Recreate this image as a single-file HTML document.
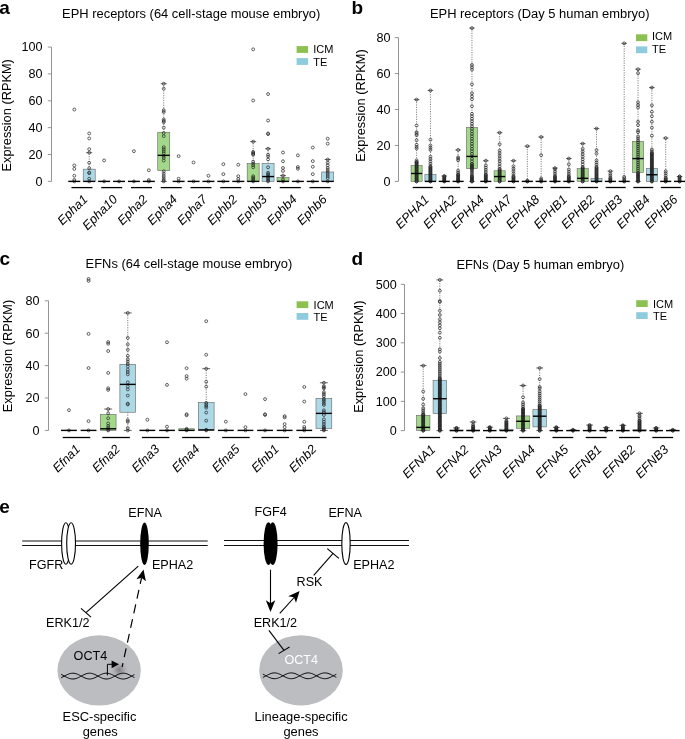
<!DOCTYPE html><html><head><meta charset="utf-8"><style>circle{fill:none;stroke:#222;stroke-width:0.7}html,body{margin:0;padding:0;background:#fff;overflow:hidden}svg{display:block;font-family:"Liberation Sans", sans-serif;will-change:transform}</style></head><body>
<svg width="685" height="739" viewBox="0 0 685 739">
<rect width="685" height="739" fill="#fff"/>
<g>
<g fill="none" stroke="#222" stroke-width="0.7">
</g>
<line x1="51.5" y1="47.05" x2="51.5" y2="181.4" stroke="#888" stroke-width="0.9"/>
<line x1="47.8" y1="181.4" x2="51.5" y2="181.4" stroke="#888" stroke-width="0.9"/>
<text x="42.6" y="185.8" text-anchor="end" font-size="12.6">0</text>
<line x1="47.8" y1="154.53" x2="51.5" y2="154.53" stroke="#888" stroke-width="0.9"/>
<text x="42.6" y="158.93" text-anchor="end" font-size="12.6">20</text>
<line x1="47.8" y1="127.66" x2="51.5" y2="127.66" stroke="#888" stroke-width="0.9"/>
<text x="42.6" y="132.06" text-anchor="end" font-size="12.6">40</text>
<line x1="47.8" y1="100.79" x2="51.5" y2="100.79" stroke="#888" stroke-width="0.9"/>
<text x="42.6" y="105.19" text-anchor="end" font-size="12.6">60</text>
<line x1="47.8" y1="73.92" x2="51.5" y2="73.92" stroke="#888" stroke-width="0.9"/>
<text x="42.6" y="78.32" text-anchor="end" font-size="12.6">80</text>
<line x1="47.8" y1="47.05" x2="51.5" y2="47.05" stroke="#888" stroke-width="0.9"/>
<text x="42.6" y="51.45" text-anchor="end" font-size="12.6">100</text>
<text transform="translate(10.8,115.3) rotate(-90)" text-anchor="middle" font-size="12.8">Expression (RPKM)</text>
<text x="191.2" y="18.3" text-anchor="middle" font-size="12.92">EPH receptors (64 cell-stage mouse embryo)</text>
<text x="-0.8" y="13.6" font-size="19" font-weight="bold">a</text>
<rect x="296.6" y="46.1" width="11.5" height="6.8" fill="#8cc152"/>
<rect x="296.6" y="58.1" width="11.5" height="6.8" fill="#8ecbdc"/>
<text x="313.3" y="52.7" font-size="11">ICM</text>
<text x="313.3" y="66.4" font-size="11">TE</text>
<circle cx="74.3" cy="109.52" r="1.45"/>
<circle cx="74.3" cy="165.41" r="1.45"/>
<circle cx="74.3" cy="168.91" r="1.45"/>
<circle cx="74.3" cy="175.76" r="1.45"/>
<circle cx="74.3" cy="179.92" r="1.45"/>
<circle cx="74.3" cy="181.4" r="1.45"/>
<line x1="68.3" y1="181.4" x2="80.3" y2="181.4" stroke="#000" stroke-width="1.4"/>
<line x1="89.21" y1="169.17" x2="89.21" y2="152.65" stroke="#555" stroke-width="0.8" stroke-dasharray="1.1 1.3"/>
<line x1="86.21" y1="152.65" x2="92.21" y2="152.65" stroke="#555" stroke-width="0.9"/>
<rect x="83.21" y="169.17" width="12" height="12.23" fill="#add8e6" stroke="#666" stroke-width="0.6"/>
<circle cx="89.21" cy="133.44" r="1.45"/>
<circle cx="89.21" cy="138.41" r="1.45"/>
<circle cx="89.21" cy="149.16" r="1.45"/>
<circle cx="89.21" cy="162.86" r="1.45"/>
<circle cx="89.21" cy="168.23" r="1.45"/>
<circle cx="89.21" cy="172.53" r="1.45"/>
<circle cx="89.21" cy="173.2" r="1.45"/>
<circle cx="89.21" cy="178.71" r="1.45"/>
<circle cx="89.21" cy="152.65" r="1.45"/>
<circle cx="89.21" cy="181.4" r="1.45"/>
<line x1="83.21" y1="181.4" x2="95.21" y2="181.4" stroke="#000" stroke-width="1.4"/>
<circle cx="104.11" cy="160.44" r="1.45"/>
<circle cx="104.11" cy="181.4" r="1.45"/>
<line x1="98.11" y1="181.4" x2="110.11" y2="181.4" stroke="#000" stroke-width="1.4"/>
<circle cx="119.02" cy="181.4" r="1.45"/>
<line x1="113.02" y1="181.4" x2="125.02" y2="181.4" stroke="#000" stroke-width="1.4"/>
<circle cx="133.92" cy="151.17" r="1.45"/>
<circle cx="133.92" cy="181.4" r="1.45"/>
<line x1="127.92" y1="181.4" x2="139.92" y2="181.4" stroke="#000" stroke-width="1.4"/>
<circle cx="148.83" cy="170.25" r="1.45"/>
<circle cx="148.83" cy="180.06" r="1.45"/>
<circle cx="148.83" cy="181.4" r="1.45"/>
<line x1="142.83" y1="181.4" x2="154.83" y2="181.4" stroke="#000" stroke-width="1.4"/>
<line x1="163.74" y1="132.23" x2="163.74" y2="83.73" stroke="#555" stroke-width="0.8" stroke-dasharray="1.1 1.3"/>
<line x1="160.74" y1="83.73" x2="166.74" y2="83.73" stroke="#555" stroke-width="0.9"/>
<line x1="163.74" y1="170.65" x2="163.74" y2="181.4" stroke="#555" stroke-width="0.8" stroke-dasharray="1.1 1.3"/>
<line x1="160.74" y1="181.4" x2="166.74" y2="181.4" stroke="#555" stroke-width="0.9"/>
<rect x="157.74" y="132.23" width="12" height="38.42" fill="#a3d88a" stroke="#666" stroke-width="0.6"/>
<circle cx="163.74" cy="88.7" r="1.45"/>
<circle cx="163.74" cy="110.19" r="1.45"/>
<circle cx="163.74" cy="112.08" r="1.45"/>
<circle cx="163.74" cy="119.6" r="1.45"/>
<circle cx="163.74" cy="120.94" r="1.45"/>
<circle cx="163.74" cy="122.29" r="1.45"/>
<circle cx="163.74" cy="127.66" r="1.45"/>
<circle cx="163.74" cy="133.03" r="1.45"/>
<circle cx="163.74" cy="136.12" r="1.45"/>
<circle cx="163.74" cy="147.14" r="1.45"/>
<circle cx="163.74" cy="149.16" r="1.45"/>
<circle cx="163.74" cy="151.17" r="1.45"/>
<circle cx="163.74" cy="153.19" r="1.45"/>
<circle cx="163.74" cy="155.87" r="1.45"/>
<circle cx="163.74" cy="157.89" r="1.45"/>
<circle cx="163.74" cy="160.58" r="1.45"/>
<circle cx="163.74" cy="171.32" r="1.45"/>
<circle cx="163.74" cy="173.74" r="1.45"/>
<circle cx="163.74" cy="176.03" r="1.45"/>
<circle cx="163.74" cy="178.18" r="1.45"/>
<circle cx="163.74" cy="180.06" r="1.45"/>
<circle cx="163.74" cy="83.73" r="1.45"/>
<circle cx="163.74" cy="181.4" r="1.45"/>
<line x1="157.74" y1="155.34" x2="169.74" y2="155.34" stroke="#000" stroke-width="1.4"/>
<circle cx="178.64" cy="156.14" r="1.45"/>
<circle cx="178.64" cy="178.71" r="1.45"/>
<circle cx="178.64" cy="181.4" r="1.45"/>
<line x1="172.64" y1="181.4" x2="184.64" y2="181.4" stroke="#000" stroke-width="1.4"/>
<circle cx="193.55" cy="162.46" r="1.45"/>
<circle cx="193.55" cy="181.4" r="1.45"/>
<line x1="187.55" y1="181.4" x2="199.55" y2="181.4" stroke="#000" stroke-width="1.4"/>
<circle cx="208.45" cy="175.76" r="1.45"/>
<circle cx="208.45" cy="181.4" r="1.45"/>
<line x1="202.45" y1="181.4" x2="214.45" y2="181.4" stroke="#000" stroke-width="1.4"/>
<circle cx="223.36" cy="164.2" r="1.45"/>
<circle cx="223.36" cy="174.15" r="1.45"/>
<circle cx="223.36" cy="181.4" r="1.45"/>
<line x1="217.36" y1="181.4" x2="229.36" y2="181.4" stroke="#000" stroke-width="1.4"/>
<circle cx="238.27" cy="164.74" r="1.45"/>
<circle cx="238.27" cy="176.16" r="1.45"/>
<circle cx="238.27" cy="178.98" r="1.45"/>
<circle cx="238.27" cy="181.4" r="1.45"/>
<line x1="232.27" y1="181.4" x2="244.27" y2="181.4" stroke="#000" stroke-width="1.4"/>
<line x1="253.17" y1="163.53" x2="253.17" y2="141.63" stroke="#555" stroke-width="0.8" stroke-dasharray="1.1 1.3"/>
<line x1="250.17" y1="141.63" x2="256.17" y2="141.63" stroke="#555" stroke-width="0.9"/>
<rect x="247.17" y="163.53" width="12" height="17.87" fill="#a3d88a" stroke="#666" stroke-width="0.6"/>
<circle cx="253.17" cy="49.33" r="1.45"/>
<circle cx="253.17" cy="100.52" r="1.45"/>
<circle cx="253.17" cy="151.84" r="1.45"/>
<circle cx="253.17" cy="152.92" r="1.45"/>
<circle cx="253.17" cy="153.86" r="1.45"/>
<circle cx="253.17" cy="154.8" r="1.45"/>
<circle cx="253.17" cy="161.65" r="1.45"/>
<circle cx="253.17" cy="163.53" r="1.45"/>
<circle cx="253.17" cy="165.28" r="1.45"/>
<circle cx="253.17" cy="167.29" r="1.45"/>
<circle cx="253.17" cy="176.29" r="1.45"/>
<circle cx="253.17" cy="177.64" r="1.45"/>
<circle cx="253.17" cy="178.98" r="1.45"/>
<circle cx="253.17" cy="180.33" r="1.45"/>
<circle cx="253.17" cy="141.63" r="1.45"/>
<circle cx="253.17" cy="181.4" r="1.45"/>
<line x1="247.17" y1="181.4" x2="259.17" y2="181.4" stroke="#000" stroke-width="1.4"/>
<line x1="268.08" y1="163.53" x2="268.08" y2="148.75" stroke="#555" stroke-width="0.8" stroke-dasharray="1.1 1.3"/>
<line x1="265.08" y1="148.75" x2="271.08" y2="148.75" stroke="#555" stroke-width="0.9"/>
<rect x="262.08" y="163.53" width="12" height="17.87" fill="#add8e6" stroke="#666" stroke-width="0.6"/>
<circle cx="268.08" cy="94.07" r="1.45"/>
<circle cx="268.08" cy="120.54" r="1.45"/>
<circle cx="268.08" cy="133.44" r="1.45"/>
<circle cx="268.08" cy="134.11" r="1.45"/>
<circle cx="268.08" cy="154.66" r="1.45"/>
<circle cx="268.08" cy="156.41" r="1.45"/>
<circle cx="268.08" cy="159.37" r="1.45"/>
<circle cx="268.08" cy="167.29" r="1.45"/>
<circle cx="268.08" cy="172.67" r="1.45"/>
<circle cx="268.08" cy="174.01" r="1.45"/>
<circle cx="268.08" cy="175.35" r="1.45"/>
<circle cx="268.08" cy="176.7" r="1.45"/>
<circle cx="268.08" cy="178.04" r="1.45"/>
<circle cx="268.08" cy="179.38" r="1.45"/>
<circle cx="268.08" cy="180.59" r="1.45"/>
<circle cx="268.08" cy="148.75" r="1.45"/>
<circle cx="268.08" cy="181.4" r="1.45"/>
<line x1="262.08" y1="176.56" x2="274.08" y2="176.56" stroke="#000" stroke-width="1.4"/>
<line x1="282.98" y1="177.5" x2="282.98" y2="175.62" stroke="#555" stroke-width="0.8" stroke-dasharray="1.1 1.3"/>
<line x1="279.98" y1="175.62" x2="285.98" y2="175.62" stroke="#555" stroke-width="0.9"/>
<rect x="276.98" y="177.5" width="12" height="3.9" fill="#a3d88a" stroke="#666" stroke-width="0.6"/>
<circle cx="282.98" cy="152.51" r="1.45"/>
<circle cx="282.98" cy="161.25" r="1.45"/>
<circle cx="282.98" cy="167.97" r="1.45"/>
<circle cx="282.98" cy="170.92" r="1.45"/>
<circle cx="282.98" cy="179.38" r="1.45"/>
<circle cx="282.98" cy="175.62" r="1.45"/>
<circle cx="282.98" cy="181.4" r="1.45"/>
<line x1="276.98" y1="181.4" x2="288.98" y2="181.4" stroke="#000" stroke-width="1.4"/>
<circle cx="297.89" cy="155.34" r="1.45"/>
<circle cx="297.89" cy="167.02" r="1.45"/>
<circle cx="297.89" cy="168.77" r="1.45"/>
<circle cx="297.89" cy="181.4" r="1.45"/>
<line x1="291.89" y1="181.4" x2="303.89" y2="181.4" stroke="#000" stroke-width="1.4"/>
<circle cx="312.8" cy="147.54" r="1.45"/>
<circle cx="312.8" cy="161.11" r="1.45"/>
<circle cx="312.8" cy="166.76" r="1.45"/>
<circle cx="312.8" cy="174.15" r="1.45"/>
<circle cx="312.8" cy="181.4" r="1.45"/>
<line x1="306.8" y1="181.4" x2="318.8" y2="181.4" stroke="#000" stroke-width="1.4"/>
<line x1="327.7" y1="172" x2="327.7" y2="159.5" stroke="#555" stroke-width="0.8" stroke-dasharray="1.1 1.3"/>
<line x1="324.7" y1="159.5" x2="330.7" y2="159.5" stroke="#555" stroke-width="0.9"/>
<rect x="321.7" y="172" width="12" height="9.4" fill="#add8e6" stroke="#666" stroke-width="0.6"/>
<circle cx="327.7" cy="138.68" r="1.45"/>
<circle cx="327.7" cy="143.65" r="1.45"/>
<circle cx="327.7" cy="162.59" r="1.45"/>
<circle cx="327.7" cy="165.28" r="1.45"/>
<circle cx="327.7" cy="167.97" r="1.45"/>
<circle cx="327.7" cy="169.98" r="1.45"/>
<circle cx="327.7" cy="172" r="1.45"/>
<circle cx="327.7" cy="174.01" r="1.45"/>
<circle cx="327.7" cy="176.03" r="1.45"/>
<circle cx="327.7" cy="178.04" r="1.45"/>
<circle cx="327.7" cy="159.5" r="1.45"/>
<circle cx="327.7" cy="181.4" r="1.45"/>
<line x1="321.7" y1="181.4" x2="333.7" y2="181.4" stroke="#000" stroke-width="1.4"/>
<line x1="71.45" y1="187.6" x2="92.45" y2="187.6" stroke="#000" stroke-width="1.3"/>
<text transform="translate(88.35,200) rotate(-45)" text-anchor="end" font-size="12.6" font-style="italic">Epha1</text>
<line x1="101.21" y1="187.6" x2="122.21" y2="187.6" stroke="#000" stroke-width="1.3"/>
<text transform="translate(118.26,200) rotate(-45)" text-anchor="end" font-size="12.6" font-style="italic">Epha10</text>
<line x1="130.97" y1="187.6" x2="151.97" y2="187.6" stroke="#000" stroke-width="1.3"/>
<text transform="translate(148.17,200) rotate(-45)" text-anchor="end" font-size="12.6" font-style="italic">Epha2</text>
<line x1="160.73" y1="187.6" x2="181.73" y2="187.6" stroke="#000" stroke-width="1.3"/>
<text transform="translate(178.08,200) rotate(-45)" text-anchor="end" font-size="12.6" font-style="italic">Epha4</text>
<line x1="190.49" y1="187.6" x2="211.49" y2="187.6" stroke="#000" stroke-width="1.3"/>
<text transform="translate(207.99,200) rotate(-45)" text-anchor="end" font-size="12.6" font-style="italic">Epha7</text>
<line x1="220.25" y1="187.6" x2="241.25" y2="187.6" stroke="#000" stroke-width="1.3"/>
<text transform="translate(237.9,200) rotate(-45)" text-anchor="end" font-size="12.6" font-style="italic">Ephb2</text>
<line x1="250.01" y1="187.6" x2="271.01" y2="187.6" stroke="#000" stroke-width="1.3"/>
<text transform="translate(267.81,200) rotate(-45)" text-anchor="end" font-size="12.6" font-style="italic">Ephb3</text>
<line x1="279.77" y1="187.6" x2="300.77" y2="187.6" stroke="#000" stroke-width="1.3"/>
<text transform="translate(297.72,200) rotate(-45)" text-anchor="end" font-size="12.6" font-style="italic">Ephb4</text>
<line x1="309.53" y1="187.6" x2="330.53" y2="187.6" stroke="#000" stroke-width="1.3"/>
<text transform="translate(327.63,200) rotate(-45)" text-anchor="end" font-size="12.6" font-style="italic">Ephb6</text>
</g>
<g>
<g fill="none" stroke="#222" stroke-width="0.7">
</g>
<line x1="398.5" y1="37.6" x2="398.5" y2="181.4" stroke="#888" stroke-width="0.9"/>
<line x1="394.8" y1="181.4" x2="398.5" y2="181.4" stroke="#888" stroke-width="0.9"/>
<text x="390.6" y="185.8" text-anchor="end" font-size="12.6">0</text>
<line x1="394.8" y1="145.45" x2="398.5" y2="145.45" stroke="#888" stroke-width="0.9"/>
<text x="390.6" y="149.85" text-anchor="end" font-size="12.6">20</text>
<line x1="394.8" y1="109.5" x2="398.5" y2="109.5" stroke="#888" stroke-width="0.9"/>
<text x="390.6" y="113.9" text-anchor="end" font-size="12.6">40</text>
<line x1="394.8" y1="73.55" x2="398.5" y2="73.55" stroke="#888" stroke-width="0.9"/>
<text x="390.6" y="77.95" text-anchor="end" font-size="12.6">60</text>
<line x1="394.8" y1="37.6" x2="398.5" y2="37.6" stroke="#888" stroke-width="0.9"/>
<text x="390.6" y="42" text-anchor="end" font-size="12.6">80</text>
<text transform="translate(364.5,105.5) rotate(-90)" text-anchor="middle" font-size="12.8">Expression (RPKM)</text>
<text x="539.7" y="18.2" text-anchor="middle" font-size="12.92">EPH receptors (Day 5 human embryo)</text>
<text x="351.6" y="13.5" font-size="19" font-weight="bold">b</text>
<rect x="636" y="34.3" width="11.3" height="6.8" fill="#8cc152"/>
<rect x="636" y="46.4" width="11.3" height="6.8" fill="#8ecbdc"/>
<text x="652" y="40.4" font-size="11">ICM</text>
<text x="652" y="53.2" font-size="11">TE</text>
<line x1="416.6" y1="165.58" x2="416.6" y2="99.61" stroke="#555" stroke-width="0.8" stroke-dasharray="1.1 1.3"/>
<line x1="413.83" y1="99.61" x2="419.38" y2="99.61" stroke="#555" stroke-width="0.9"/>
<rect x="411.05" y="165.58" width="11.1" height="15.82" fill="#a3d88a" stroke="#666" stroke-width="0.6"/>
<circle cx="416.6" cy="148.51" r="1.45"/>
<circle cx="416.6" cy="146.89" r="1.45"/>
<circle cx="416.6" cy="144.73" r="1.45"/>
<circle cx="416.6" cy="140.24" r="1.45"/>
<circle cx="416.6" cy="135.2" r="1.45"/>
<circle cx="416.6" cy="133.77" r="1.45"/>
<circle cx="416.6" cy="132.15" r="1.45"/>
<circle cx="416.6" cy="125.5" r="1.45"/>
<circle cx="416.6" cy="181.4" r="1.45"/>
<circle cx="416.6" cy="180.6" r="1.45"/>
<circle cx="416.6" cy="179.8" r="1.45"/>
<circle cx="416.6" cy="179" r="1.45"/>
<circle cx="416.6" cy="178.2" r="1.45"/>
<circle cx="416.6" cy="177.4" r="1.45"/>
<circle cx="416.6" cy="176.6" r="1.45"/>
<circle cx="416.6" cy="175.8" r="1.45"/>
<circle cx="416.6" cy="175" r="1.45"/>
<circle cx="416.6" cy="174.2" r="1.45"/>
<circle cx="416.6" cy="173.4" r="1.45"/>
<circle cx="416.6" cy="172.6" r="1.45"/>
<circle cx="416.6" cy="171.8" r="1.45"/>
<circle cx="416.6" cy="171" r="1.45"/>
<circle cx="416.6" cy="170.2" r="1.45"/>
<circle cx="416.6" cy="169.4" r="1.45"/>
<circle cx="416.6" cy="168.6" r="1.45"/>
<circle cx="416.6" cy="167.8" r="1.45"/>
<circle cx="416.6" cy="167" r="1.45"/>
<circle cx="416.6" cy="166.2" r="1.45"/>
<circle cx="416.6" cy="165.4" r="1.45"/>
<circle cx="416.6" cy="164.6" r="1.45"/>
<circle cx="416.6" cy="163.8" r="1.45"/>
<circle cx="416.6" cy="163" r="1.45"/>
<circle cx="416.6" cy="162.2" r="1.45"/>
<circle cx="416.6" cy="161.99" r="1.45"/>
<circle cx="416.6" cy="160.39" r="1.45"/>
<circle cx="416.6" cy="99.61" r="1.45"/>
<circle cx="416.6" cy="181.4" r="1.45"/>
<line x1="411.05" y1="173.49" x2="422.15" y2="173.49" stroke="#000" stroke-width="1.4"/>
<line x1="430.44" y1="174.57" x2="430.44" y2="90.45" stroke="#555" stroke-width="0.8" stroke-dasharray="1.1 1.3"/>
<line x1="427.67" y1="90.45" x2="433.21" y2="90.45" stroke="#555" stroke-width="0.9"/>
<rect x="424.89" y="174.57" width="11.1" height="6.83" fill="#add8e6" stroke="#666" stroke-width="0.6"/>
<circle cx="430.44" cy="149.94" r="1.45"/>
<circle cx="430.44" cy="147.79" r="1.45"/>
<circle cx="430.44" cy="145.45" r="1.45"/>
<circle cx="430.44" cy="139.7" r="1.45"/>
<circle cx="430.44" cy="181.4" r="1.45"/>
<circle cx="430.44" cy="180.6" r="1.45"/>
<circle cx="430.44" cy="179.8" r="1.45"/>
<circle cx="430.44" cy="179" r="1.45"/>
<circle cx="430.44" cy="178.2" r="1.45"/>
<circle cx="430.44" cy="177.4" r="1.45"/>
<circle cx="430.44" cy="176.6" r="1.45"/>
<circle cx="430.44" cy="175.8" r="1.45"/>
<circle cx="430.44" cy="175" r="1.45"/>
<circle cx="430.44" cy="174.2" r="1.45"/>
<circle cx="430.44" cy="173.4" r="1.45"/>
<circle cx="430.44" cy="172.6" r="1.45"/>
<circle cx="430.44" cy="171.8" r="1.45"/>
<circle cx="430.44" cy="171" r="1.45"/>
<circle cx="430.44" cy="170.2" r="1.45"/>
<circle cx="430.44" cy="169.4" r="1.45"/>
<circle cx="430.44" cy="168.6" r="1.45"/>
<circle cx="430.44" cy="167.8" r="1.45"/>
<circle cx="430.44" cy="167" r="1.45"/>
<circle cx="430.44" cy="166.3" r="1.45"/>
<circle cx="430.44" cy="163.9" r="1.45"/>
<circle cx="430.44" cy="161.5" r="1.45"/>
<circle cx="430.44" cy="159.1" r="1.45"/>
<circle cx="430.44" cy="156.7" r="1.45"/>
<circle cx="430.44" cy="90.45" r="1.45"/>
<circle cx="430.44" cy="181.4" r="1.45"/>
<line x1="424.89" y1="181.4" x2="435.99" y2="181.4" stroke="#000" stroke-width="1.4"/>
<line x1="444.28" y1="181.4" x2="444.28" y2="176.01" stroke="#555" stroke-width="0.8" stroke-dasharray="1.1 1.3"/>
<line x1="441.51" y1="176.01" x2="447.06" y2="176.01" stroke="#555" stroke-width="0.9"/>
<circle cx="444.28" cy="181.4" r="1.45"/>
<circle cx="444.28" cy="180.6" r="1.45"/>
<circle cx="444.28" cy="179.8" r="1.45"/>
<circle cx="444.28" cy="179" r="1.45"/>
<circle cx="444.28" cy="178.2" r="1.45"/>
<circle cx="444.28" cy="177.4" r="1.45"/>
<circle cx="444.28" cy="176.6" r="1.45"/>
<circle cx="444.28" cy="176.01" r="1.45"/>
<circle cx="444.28" cy="181.4" r="1.45"/>
<line x1="438.73" y1="181.4" x2="449.83" y2="181.4" stroke="#000" stroke-width="1.4"/>
<line x1="458.12" y1="181.4" x2="458.12" y2="149.94" stroke="#555" stroke-width="0.8" stroke-dasharray="1.1 1.3"/>
<line x1="455.35" y1="149.94" x2="460.89" y2="149.94" stroke="#555" stroke-width="0.9"/>
<circle cx="458.12" cy="160.37" r="1.45"/>
<circle cx="458.12" cy="158.75" r="1.45"/>
<circle cx="458.12" cy="157.31" r="1.45"/>
<circle cx="458.12" cy="181.4" r="1.45"/>
<circle cx="458.12" cy="180.6" r="1.45"/>
<circle cx="458.12" cy="179.8" r="1.45"/>
<circle cx="458.12" cy="179" r="1.45"/>
<circle cx="458.12" cy="178.2" r="1.45"/>
<circle cx="458.12" cy="177.4" r="1.45"/>
<circle cx="458.12" cy="176.6" r="1.45"/>
<circle cx="458.12" cy="175.8" r="1.45"/>
<circle cx="458.12" cy="175" r="1.45"/>
<circle cx="458.12" cy="174.21" r="1.45"/>
<circle cx="458.12" cy="172.41" r="1.45"/>
<circle cx="458.12" cy="170.61" r="1.45"/>
<circle cx="458.12" cy="149.94" r="1.45"/>
<circle cx="458.12" cy="181.4" r="1.45"/>
<line x1="452.57" y1="181.4" x2="463.67" y2="181.4" stroke="#000" stroke-width="1.4"/>
<line x1="471.96" y1="127.47" x2="471.96" y2="28.07" stroke="#555" stroke-width="0.8" stroke-dasharray="1.1 1.3"/>
<line x1="469.19" y1="28.07" x2="474.74" y2="28.07" stroke="#555" stroke-width="0.9"/>
<line x1="471.96" y1="168.64" x2="471.96" y2="181.4" stroke="#555" stroke-width="0.8" stroke-dasharray="1.1 1.3"/>
<line x1="469.19" y1="181.4" x2="474.74" y2="181.4" stroke="#555" stroke-width="0.9"/>
<rect x="466.41" y="127.47" width="11.1" height="41.16" fill="#a3d88a" stroke="#666" stroke-width="0.6"/>
<circle cx="471.96" cy="167.92" r="1.45"/>
<circle cx="471.96" cy="166.66" r="1.45"/>
<circle cx="471.96" cy="165.58" r="1.45"/>
<circle cx="471.96" cy="164.32" r="1.45"/>
<circle cx="471.96" cy="106.26" r="1.45"/>
<circle cx="471.96" cy="99.25" r="1.45"/>
<circle cx="471.96" cy="96.38" r="1.45"/>
<circle cx="471.96" cy="93.32" r="1.45"/>
<circle cx="471.96" cy="84.33" r="1.45"/>
<circle cx="471.96" cy="69.6" r="1.45"/>
<circle cx="471.96" cy="67.26" r="1.45"/>
<circle cx="471.96" cy="64.92" r="1.45"/>
<circle cx="471.96" cy="181.4" r="1.45"/>
<circle cx="471.96" cy="180.6" r="1.45"/>
<circle cx="471.96" cy="179.8" r="1.45"/>
<circle cx="471.96" cy="179" r="1.45"/>
<circle cx="471.96" cy="178.2" r="1.45"/>
<circle cx="471.96" cy="177.4" r="1.45"/>
<circle cx="471.96" cy="176.6" r="1.45"/>
<circle cx="471.96" cy="176.01" r="1.45"/>
<circle cx="471.96" cy="174.41" r="1.45"/>
<circle cx="471.96" cy="172.81" r="1.45"/>
<circle cx="471.96" cy="171.21" r="1.45"/>
<circle cx="471.96" cy="169.61" r="1.45"/>
<circle cx="471.96" cy="168.82" r="1.45"/>
<circle cx="471.96" cy="166.32" r="1.45"/>
<circle cx="471.96" cy="163.82" r="1.45"/>
<circle cx="471.96" cy="161.32" r="1.45"/>
<circle cx="471.96" cy="158.82" r="1.45"/>
<circle cx="471.96" cy="156.32" r="1.45"/>
<circle cx="471.96" cy="153.82" r="1.45"/>
<circle cx="471.96" cy="151.32" r="1.45"/>
<circle cx="471.96" cy="148.82" r="1.45"/>
<circle cx="471.96" cy="146.32" r="1.45"/>
<circle cx="471.96" cy="143.82" r="1.45"/>
<circle cx="471.96" cy="141.32" r="1.45"/>
<circle cx="471.96" cy="138.82" r="1.45"/>
<circle cx="471.96" cy="136.32" r="1.45"/>
<circle cx="471.96" cy="133.82" r="1.45"/>
<circle cx="471.96" cy="131.32" r="1.45"/>
<circle cx="471.96" cy="128.82" r="1.45"/>
<circle cx="471.96" cy="126.32" r="1.45"/>
<circle cx="471.96" cy="123.82" r="1.45"/>
<circle cx="471.96" cy="121.32" r="1.45"/>
<circle cx="471.96" cy="118.82" r="1.45"/>
<circle cx="471.96" cy="116.32" r="1.45"/>
<circle cx="471.96" cy="113.82" r="1.45"/>
<circle cx="471.96" cy="28.07" r="1.45"/>
<circle cx="471.96" cy="181.4" r="1.45"/>
<line x1="466.41" y1="156.41" x2="477.51" y2="156.41" stroke="#000" stroke-width="1.4"/>
<line x1="485.8" y1="181.4" x2="485.8" y2="160.73" stroke="#555" stroke-width="0.8" stroke-dasharray="1.1 1.3"/>
<line x1="483.03" y1="160.73" x2="488.57" y2="160.73" stroke="#555" stroke-width="0.9"/>
<circle cx="485.8" cy="181.4" r="1.45"/>
<circle cx="485.8" cy="180.6" r="1.45"/>
<circle cx="485.8" cy="179.8" r="1.45"/>
<circle cx="485.8" cy="179" r="1.45"/>
<circle cx="485.8" cy="178.2" r="1.45"/>
<circle cx="485.8" cy="177.4" r="1.45"/>
<circle cx="485.8" cy="176.6" r="1.45"/>
<circle cx="485.8" cy="175.8" r="1.45"/>
<circle cx="485.8" cy="175" r="1.45"/>
<circle cx="485.8" cy="174.21" r="1.45"/>
<circle cx="485.8" cy="172.01" r="1.45"/>
<circle cx="485.8" cy="169.81" r="1.45"/>
<circle cx="485.8" cy="167.61" r="1.45"/>
<circle cx="485.8" cy="165.41" r="1.45"/>
<circle cx="485.8" cy="160.73" r="1.45"/>
<circle cx="485.8" cy="181.4" r="1.45"/>
<line x1="480.25" y1="181.4" x2="491.35" y2="181.4" stroke="#000" stroke-width="1.4"/>
<line x1="499.64" y1="170.79" x2="499.64" y2="132.69" stroke="#555" stroke-width="0.8" stroke-dasharray="1.1 1.3"/>
<line x1="496.87" y1="132.69" x2="502.41" y2="132.69" stroke="#555" stroke-width="0.9"/>
<rect x="494.09" y="170.79" width="11.1" height="10.61" fill="#a3d88a" stroke="#666" stroke-width="0.6"/>
<circle cx="499.64" cy="144.19" r="1.45"/>
<circle cx="499.64" cy="181.4" r="1.45"/>
<circle cx="499.64" cy="180.5" r="1.45"/>
<circle cx="499.64" cy="179.6" r="1.45"/>
<circle cx="499.64" cy="178.7" r="1.45"/>
<circle cx="499.64" cy="177.8" r="1.45"/>
<circle cx="499.64" cy="176.9" r="1.45"/>
<circle cx="499.64" cy="176" r="1.45"/>
<circle cx="499.64" cy="175.1" r="1.45"/>
<circle cx="499.64" cy="174.2" r="1.45"/>
<circle cx="499.64" cy="173.3" r="1.45"/>
<circle cx="499.64" cy="172.4" r="1.45"/>
<circle cx="499.64" cy="171.5" r="1.45"/>
<circle cx="499.64" cy="170.6" r="1.45"/>
<circle cx="499.64" cy="169.7" r="1.45"/>
<circle cx="499.64" cy="168.82" r="1.45"/>
<circle cx="499.64" cy="166.22" r="1.45"/>
<circle cx="499.64" cy="163.62" r="1.45"/>
<circle cx="499.64" cy="161.02" r="1.45"/>
<circle cx="499.64" cy="158.42" r="1.45"/>
<circle cx="499.64" cy="155.82" r="1.45"/>
<circle cx="499.64" cy="153.22" r="1.45"/>
<circle cx="499.64" cy="150.62" r="1.45"/>
<circle cx="499.64" cy="132.69" r="1.45"/>
<circle cx="499.64" cy="181.4" r="1.45"/>
<line x1="494.09" y1="176.55" x2="505.19" y2="176.55" stroke="#000" stroke-width="1.4"/>
<line x1="513.48" y1="181.4" x2="513.48" y2="160.73" stroke="#555" stroke-width="0.8" stroke-dasharray="1.1 1.3"/>
<line x1="510.71" y1="160.73" x2="516.25" y2="160.73" stroke="#555" stroke-width="0.9"/>
<circle cx="513.48" cy="181.4" r="1.45"/>
<circle cx="513.48" cy="180.5" r="1.45"/>
<circle cx="513.48" cy="179.6" r="1.45"/>
<circle cx="513.48" cy="178.7" r="1.45"/>
<circle cx="513.48" cy="177.8" r="1.45"/>
<circle cx="513.48" cy="176.9" r="1.45"/>
<circle cx="513.48" cy="176.01" r="1.45"/>
<circle cx="513.48" cy="173.61" r="1.45"/>
<circle cx="513.48" cy="171.21" r="1.45"/>
<circle cx="513.48" cy="168.81" r="1.45"/>
<circle cx="513.48" cy="166.41" r="1.45"/>
<circle cx="513.48" cy="160.73" r="1.45"/>
<circle cx="513.48" cy="181.4" r="1.45"/>
<line x1="507.93" y1="181.4" x2="519.03" y2="181.4" stroke="#000" stroke-width="1.4"/>
<line x1="527.32" y1="181.4" x2="527.32" y2="146.17" stroke="#555" stroke-width="0.8" stroke-dasharray="1.1 1.3"/>
<line x1="524.55" y1="146.17" x2="530.1" y2="146.17" stroke="#555" stroke-width="0.9"/>
<circle cx="527.32" cy="181.4" r="1.45"/>
<circle cx="527.32" cy="180.6" r="1.45"/>
<circle cx="527.32" cy="146.17" r="1.45"/>
<circle cx="527.32" cy="181.4" r="1.45"/>
<line x1="521.77" y1="181.4" x2="532.87" y2="181.4" stroke="#000" stroke-width="1.4"/>
<line x1="541.16" y1="181.4" x2="541.16" y2="137" stroke="#555" stroke-width="0.8" stroke-dasharray="1.1 1.3"/>
<line x1="538.39" y1="137" x2="543.94" y2="137" stroke="#555" stroke-width="0.9"/>
<circle cx="541.16" cy="155.16" r="1.45"/>
<circle cx="541.16" cy="181.4" r="1.45"/>
<circle cx="541.16" cy="179.9" r="1.45"/>
<circle cx="541.16" cy="178.4" r="1.45"/>
<circle cx="541.16" cy="137" r="1.45"/>
<circle cx="541.16" cy="181.4" r="1.45"/>
<line x1="535.61" y1="181.4" x2="546.71" y2="181.4" stroke="#000" stroke-width="1.4"/>
<line x1="555" y1="181.4" x2="555" y2="168.1" stroke="#555" stroke-width="0.8" stroke-dasharray="1.1 1.3"/>
<line x1="552.23" y1="168.1" x2="557.77" y2="168.1" stroke="#555" stroke-width="0.9"/>
<circle cx="555" cy="181.4" r="1.45"/>
<circle cx="555" cy="180.5" r="1.45"/>
<circle cx="555" cy="179.6" r="1.45"/>
<circle cx="555" cy="178.7" r="1.45"/>
<circle cx="555" cy="177.8" r="1.45"/>
<circle cx="555" cy="176.9" r="1.45"/>
<circle cx="555" cy="176.01" r="1.45"/>
<circle cx="555" cy="173.81" r="1.45"/>
<circle cx="555" cy="171.61" r="1.45"/>
<circle cx="555" cy="169.41" r="1.45"/>
<circle cx="555" cy="168.1" r="1.45"/>
<circle cx="555" cy="181.4" r="1.45"/>
<line x1="549.45" y1="181.4" x2="560.55" y2="181.4" stroke="#000" stroke-width="1.4"/>
<line x1="568.84" y1="181.4" x2="568.84" y2="158.57" stroke="#555" stroke-width="0.8" stroke-dasharray="1.1 1.3"/>
<line x1="566.07" y1="158.57" x2="571.62" y2="158.57" stroke="#555" stroke-width="0.9"/>
<circle cx="568.84" cy="164.32" r="1.45"/>
<circle cx="568.84" cy="181.4" r="1.45"/>
<circle cx="568.84" cy="180.5" r="1.45"/>
<circle cx="568.84" cy="179.6" r="1.45"/>
<circle cx="568.84" cy="178.7" r="1.45"/>
<circle cx="568.84" cy="177.8" r="1.45"/>
<circle cx="568.84" cy="176.9" r="1.45"/>
<circle cx="568.84" cy="176.01" r="1.45"/>
<circle cx="568.84" cy="173.81" r="1.45"/>
<circle cx="568.84" cy="171.61" r="1.45"/>
<circle cx="568.84" cy="169.41" r="1.45"/>
<circle cx="568.84" cy="158.57" r="1.45"/>
<circle cx="568.84" cy="181.4" r="1.45"/>
<line x1="563.29" y1="181.4" x2="574.39" y2="181.4" stroke="#000" stroke-width="1.4"/>
<line x1="582.68" y1="168.64" x2="582.68" y2="143.65" stroke="#555" stroke-width="0.8" stroke-dasharray="1.1 1.3"/>
<line x1="579.91" y1="143.65" x2="585.46" y2="143.65" stroke="#555" stroke-width="0.9"/>
<rect x="577.13" y="168.64" width="11.1" height="12.76" fill="#a3d88a" stroke="#666" stroke-width="0.6"/>
<circle cx="582.68" cy="181.4" r="1.45"/>
<circle cx="582.68" cy="180.5" r="1.45"/>
<circle cx="582.68" cy="179.6" r="1.45"/>
<circle cx="582.68" cy="178.7" r="1.45"/>
<circle cx="582.68" cy="177.8" r="1.45"/>
<circle cx="582.68" cy="176.9" r="1.45"/>
<circle cx="582.68" cy="176" r="1.45"/>
<circle cx="582.68" cy="175.1" r="1.45"/>
<circle cx="582.68" cy="174.2" r="1.45"/>
<circle cx="582.68" cy="173.3" r="1.45"/>
<circle cx="582.68" cy="172.4" r="1.45"/>
<circle cx="582.68" cy="171.5" r="1.45"/>
<circle cx="582.68" cy="170.6" r="1.45"/>
<circle cx="582.68" cy="169.7" r="1.45"/>
<circle cx="582.68" cy="168.8" r="1.45"/>
<circle cx="582.68" cy="167.9" r="1.45"/>
<circle cx="582.68" cy="167.02" r="1.45"/>
<circle cx="582.68" cy="164.42" r="1.45"/>
<circle cx="582.68" cy="161.82" r="1.45"/>
<circle cx="582.68" cy="159.22" r="1.45"/>
<circle cx="582.68" cy="156.62" r="1.45"/>
<circle cx="582.68" cy="154.02" r="1.45"/>
<circle cx="582.68" cy="151.42" r="1.45"/>
<circle cx="582.68" cy="148.82" r="1.45"/>
<circle cx="582.68" cy="143.65" r="1.45"/>
<circle cx="582.68" cy="181.4" r="1.45"/>
<line x1="577.13" y1="178.34" x2="588.23" y2="178.34" stroke="#000" stroke-width="1.4"/>
<line x1="596.52" y1="178.34" x2="596.52" y2="128.55" stroke="#555" stroke-width="0.8" stroke-dasharray="1.1 1.3"/>
<line x1="593.75" y1="128.55" x2="599.29" y2="128.55" stroke="#555" stroke-width="0.9"/>
<rect x="590.97" y="178.34" width="11.1" height="3.06" fill="#add8e6" stroke="#666" stroke-width="0.6"/>
<circle cx="596.52" cy="153.54" r="1.45"/>
<circle cx="596.52" cy="150.12" r="1.45"/>
<circle cx="596.52" cy="181.4" r="1.45"/>
<circle cx="596.52" cy="180.5" r="1.45"/>
<circle cx="596.52" cy="179.6" r="1.45"/>
<circle cx="596.52" cy="178.7" r="1.45"/>
<circle cx="596.52" cy="177.8" r="1.45"/>
<circle cx="596.52" cy="176.9" r="1.45"/>
<circle cx="596.52" cy="176" r="1.45"/>
<circle cx="596.52" cy="175.1" r="1.45"/>
<circle cx="596.52" cy="174.2" r="1.45"/>
<circle cx="596.52" cy="173.3" r="1.45"/>
<circle cx="596.52" cy="172.4" r="1.45"/>
<circle cx="596.52" cy="171.5" r="1.45"/>
<circle cx="596.52" cy="170.6" r="1.45"/>
<circle cx="596.52" cy="169.7" r="1.45"/>
<circle cx="596.52" cy="168.8" r="1.45"/>
<circle cx="596.52" cy="167.9" r="1.45"/>
<circle cx="596.52" cy="167.02" r="1.45"/>
<circle cx="596.52" cy="164.82" r="1.45"/>
<circle cx="596.52" cy="162.62" r="1.45"/>
<circle cx="596.52" cy="160.42" r="1.45"/>
<circle cx="596.52" cy="128.55" r="1.45"/>
<circle cx="596.52" cy="181.4" r="1.45"/>
<line x1="590.97" y1="181.4" x2="602.07" y2="181.4" stroke="#000" stroke-width="1.4"/>
<line x1="610.36" y1="181.4" x2="610.36" y2="171.15" stroke="#555" stroke-width="0.8" stroke-dasharray="1.1 1.3"/>
<line x1="607.59" y1="171.15" x2="613.13" y2="171.15" stroke="#555" stroke-width="0.9"/>
<circle cx="610.36" cy="181.4" r="1.45"/>
<circle cx="610.36" cy="180.5" r="1.45"/>
<circle cx="610.36" cy="179.6" r="1.45"/>
<circle cx="610.36" cy="178.7" r="1.45"/>
<circle cx="610.36" cy="177.81" r="1.45"/>
<circle cx="610.36" cy="175.81" r="1.45"/>
<circle cx="610.36" cy="173.81" r="1.45"/>
<circle cx="610.36" cy="171.15" r="1.45"/>
<circle cx="610.36" cy="181.4" r="1.45"/>
<line x1="604.81" y1="181.4" x2="615.91" y2="181.4" stroke="#000" stroke-width="1.4"/>
<line x1="624.2" y1="181.4" x2="624.2" y2="43.35" stroke="#555" stroke-width="0.8" stroke-dasharray="1.1 1.3"/>
<line x1="621.43" y1="43.35" x2="626.98" y2="43.35" stroke="#555" stroke-width="0.9"/>
<circle cx="624.2" cy="181.4" r="1.45"/>
<circle cx="624.2" cy="179.9" r="1.45"/>
<circle cx="624.2" cy="178.4" r="1.45"/>
<circle cx="624.2" cy="176.9" r="1.45"/>
<circle cx="624.2" cy="43.35" r="1.45"/>
<circle cx="624.2" cy="181.4" r="1.45"/>
<line x1="618.65" y1="181.4" x2="629.75" y2="181.4" stroke="#000" stroke-width="1.4"/>
<line x1="638.04" y1="141.32" x2="638.04" y2="69.24" stroke="#555" stroke-width="0.8" stroke-dasharray="1.1 1.3"/>
<line x1="635.26" y1="69.24" x2="640.81" y2="69.24" stroke="#555" stroke-width="0.9"/>
<line x1="638.04" y1="172.41" x2="638.04" y2="181.4" stroke="#555" stroke-width="0.8" stroke-dasharray="1.1 1.3"/>
<line x1="635.26" y1="181.4" x2="640.81" y2="181.4" stroke="#555" stroke-width="0.9"/>
<rect x="632.49" y="141.32" width="11.1" height="31.1" fill="#a3d88a" stroke="#666" stroke-width="0.6"/>
<circle cx="638.04" cy="132.15" r="1.45"/>
<circle cx="638.04" cy="130.53" r="1.45"/>
<circle cx="638.04" cy="125.14" r="1.45"/>
<circle cx="638.04" cy="121.72" r="1.45"/>
<circle cx="638.04" cy="107.52" r="1.45"/>
<circle cx="638.04" cy="105.01" r="1.45"/>
<circle cx="638.04" cy="102.31" r="1.45"/>
<circle cx="638.04" cy="73.19" r="1.45"/>
<circle cx="638.04" cy="181.4" r="1.45"/>
<circle cx="638.04" cy="180.5" r="1.45"/>
<circle cx="638.04" cy="179.6" r="1.45"/>
<circle cx="638.04" cy="178.7" r="1.45"/>
<circle cx="638.04" cy="177.8" r="1.45"/>
<circle cx="638.04" cy="176.9" r="1.45"/>
<circle cx="638.04" cy="176" r="1.45"/>
<circle cx="638.04" cy="175.1" r="1.45"/>
<circle cx="638.04" cy="174.2" r="1.45"/>
<circle cx="638.04" cy="173.3" r="1.45"/>
<circle cx="638.04" cy="172.41" r="1.45"/>
<circle cx="638.04" cy="170.41" r="1.45"/>
<circle cx="638.04" cy="168.41" r="1.45"/>
<circle cx="638.04" cy="166.41" r="1.45"/>
<circle cx="638.04" cy="164.41" r="1.45"/>
<circle cx="638.04" cy="162.41" r="1.45"/>
<circle cx="638.04" cy="160.41" r="1.45"/>
<circle cx="638.04" cy="158.41" r="1.45"/>
<circle cx="638.04" cy="156.41" r="1.45"/>
<circle cx="638.04" cy="154.41" r="1.45"/>
<circle cx="638.04" cy="152.41" r="1.45"/>
<circle cx="638.04" cy="150.41" r="1.45"/>
<circle cx="638.04" cy="148.41" r="1.45"/>
<circle cx="638.04" cy="146.41" r="1.45"/>
<circle cx="638.04" cy="144.41" r="1.45"/>
<circle cx="638.04" cy="142.41" r="1.45"/>
<circle cx="638.04" cy="140.41" r="1.45"/>
<circle cx="638.04" cy="138.41" r="1.45"/>
<circle cx="638.04" cy="136.41" r="1.45"/>
<circle cx="638.04" cy="69.24" r="1.45"/>
<circle cx="638.04" cy="181.4" r="1.45"/>
<line x1="632.49" y1="158.57" x2="643.59" y2="158.57" stroke="#000" stroke-width="1.4"/>
<line x1="651.88" y1="168.28" x2="651.88" y2="87.57" stroke="#555" stroke-width="0.8" stroke-dasharray="1.1 1.3"/>
<line x1="649.11" y1="87.57" x2="654.65" y2="87.57" stroke="#555" stroke-width="0.9"/>
<rect x="646.33" y="168.28" width="11.1" height="13.12" fill="#add8e6" stroke="#666" stroke-width="0.6"/>
<circle cx="651.88" cy="135.74" r="1.45"/>
<circle cx="651.88" cy="127.65" r="1.45"/>
<circle cx="651.88" cy="121.72" r="1.45"/>
<circle cx="651.88" cy="116.33" r="1.45"/>
<circle cx="651.88" cy="111.84" r="1.45"/>
<circle cx="651.88" cy="105.37" r="1.45"/>
<circle cx="651.88" cy="181.4" r="1.45"/>
<circle cx="651.88" cy="180.6" r="1.45"/>
<circle cx="651.88" cy="179.8" r="1.45"/>
<circle cx="651.88" cy="179" r="1.45"/>
<circle cx="651.88" cy="178.2" r="1.45"/>
<circle cx="651.88" cy="177.4" r="1.45"/>
<circle cx="651.88" cy="176.6" r="1.45"/>
<circle cx="651.88" cy="175.8" r="1.45"/>
<circle cx="651.88" cy="175" r="1.45"/>
<circle cx="651.88" cy="174.2" r="1.45"/>
<circle cx="651.88" cy="173.4" r="1.45"/>
<circle cx="651.88" cy="172.6" r="1.45"/>
<circle cx="651.88" cy="171.8" r="1.45"/>
<circle cx="651.88" cy="171" r="1.45"/>
<circle cx="651.88" cy="170.2" r="1.45"/>
<circle cx="651.88" cy="169.4" r="1.45"/>
<circle cx="651.88" cy="168.6" r="1.45"/>
<circle cx="651.88" cy="167.8" r="1.45"/>
<circle cx="651.88" cy="167" r="1.45"/>
<circle cx="651.88" cy="166.2" r="1.45"/>
<circle cx="651.88" cy="165.4" r="1.45"/>
<circle cx="651.88" cy="164.6" r="1.45"/>
<circle cx="651.88" cy="163.8" r="1.45"/>
<circle cx="651.88" cy="163" r="1.45"/>
<circle cx="651.88" cy="162.2" r="1.45"/>
<circle cx="651.88" cy="161.4" r="1.45"/>
<circle cx="651.88" cy="160.6" r="1.45"/>
<circle cx="651.88" cy="159.8" r="1.45"/>
<circle cx="651.88" cy="159" r="1.45"/>
<circle cx="651.88" cy="158.2" r="1.45"/>
<circle cx="651.88" cy="157.4" r="1.45"/>
<circle cx="651.88" cy="156.6" r="1.45"/>
<circle cx="651.88" cy="155.8" r="1.45"/>
<circle cx="651.88" cy="155" r="1.45"/>
<circle cx="651.88" cy="154.2" r="1.45"/>
<circle cx="651.88" cy="153.4" r="1.45"/>
<circle cx="651.88" cy="153" r="1.45"/>
<circle cx="651.88" cy="151.2" r="1.45"/>
<circle cx="651.88" cy="149.4" r="1.45"/>
<circle cx="651.88" cy="87.57" r="1.45"/>
<circle cx="651.88" cy="181.4" r="1.45"/>
<line x1="646.33" y1="174.75" x2="657.43" y2="174.75" stroke="#000" stroke-width="1.4"/>
<line x1="665.72" y1="181.4" x2="665.72" y2="138.08" stroke="#555" stroke-width="0.8" stroke-dasharray="1.1 1.3"/>
<line x1="662.95" y1="138.08" x2="668.5" y2="138.08" stroke="#555" stroke-width="0.9"/>
<circle cx="665.72" cy="181.4" r="1.45"/>
<circle cx="665.72" cy="180.5" r="1.45"/>
<circle cx="665.72" cy="179.6" r="1.45"/>
<circle cx="665.72" cy="178.7" r="1.45"/>
<circle cx="665.72" cy="177.81" r="1.45"/>
<circle cx="665.72" cy="175.61" r="1.45"/>
<circle cx="665.72" cy="173.41" r="1.45"/>
<circle cx="665.72" cy="171.21" r="1.45"/>
<circle cx="665.72" cy="138.08" r="1.45"/>
<circle cx="665.72" cy="181.4" r="1.45"/>
<line x1="660.17" y1="181.4" x2="671.27" y2="181.4" stroke="#000" stroke-width="1.4"/>
<line x1="679.56" y1="181.4" x2="679.56" y2="176.55" stroke="#555" stroke-width="0.8" stroke-dasharray="1.1 1.3"/>
<line x1="676.78" y1="176.55" x2="682.33" y2="176.55" stroke="#555" stroke-width="0.9"/>
<circle cx="679.56" cy="181.4" r="1.45"/>
<circle cx="679.56" cy="180.2" r="1.45"/>
<circle cx="679.56" cy="179" r="1.45"/>
<circle cx="679.56" cy="177.8" r="1.45"/>
<circle cx="679.56" cy="176.6" r="1.45"/>
<circle cx="679.56" cy="176.55" r="1.45"/>
<circle cx="679.56" cy="181.4" r="1.45"/>
<line x1="674.01" y1="181.4" x2="685.11" y2="181.4" stroke="#000" stroke-width="1.4"/>
<line x1="412.7" y1="187.5" x2="432.7" y2="187.5" stroke="#000" stroke-width="1.3"/>
<text transform="translate(429.8,200.2) rotate(-45)" text-anchor="end" font-size="12.6" font-style="italic">EPHA1</text>
<line x1="440.27" y1="187.5" x2="460.27" y2="187.5" stroke="#000" stroke-width="1.3"/>
<text transform="translate(457.42,200.2) rotate(-45)" text-anchor="end" font-size="12.6" font-style="italic">EPHA2</text>
<line x1="467.84" y1="187.5" x2="487.84" y2="187.5" stroke="#000" stroke-width="1.3"/>
<text transform="translate(485.04,200.2) rotate(-45)" text-anchor="end" font-size="12.6" font-style="italic">EPHA4</text>
<line x1="495.41" y1="187.5" x2="515.41" y2="187.5" stroke="#000" stroke-width="1.3"/>
<text transform="translate(512.66,200.2) rotate(-45)" text-anchor="end" font-size="12.6" font-style="italic">EPHA7</text>
<line x1="522.98" y1="187.5" x2="542.98" y2="187.5" stroke="#000" stroke-width="1.3"/>
<text transform="translate(540.28,200.2) rotate(-45)" text-anchor="end" font-size="12.6" font-style="italic">EPHA8</text>
<line x1="550.55" y1="187.5" x2="570.55" y2="187.5" stroke="#000" stroke-width="1.3"/>
<text transform="translate(567.9,200.2) rotate(-45)" text-anchor="end" font-size="12.6" font-style="italic">EPHB1</text>
<line x1="578.12" y1="187.5" x2="598.12" y2="187.5" stroke="#000" stroke-width="1.3"/>
<text transform="translate(595.52,200.2) rotate(-45)" text-anchor="end" font-size="12.6" font-style="italic">EPHB2</text>
<line x1="605.69" y1="187.5" x2="625.69" y2="187.5" stroke="#000" stroke-width="1.3"/>
<text transform="translate(623.14,200.2) rotate(-45)" text-anchor="end" font-size="12.6" font-style="italic">EPHB3</text>
<line x1="633.26" y1="187.5" x2="653.26" y2="187.5" stroke="#000" stroke-width="1.3"/>
<text transform="translate(650.76,200.2) rotate(-45)" text-anchor="end" font-size="12.6" font-style="italic">EPHB4</text>
<line x1="660.83" y1="187.5" x2="680.83" y2="187.5" stroke="#000" stroke-width="1.3"/>
<text transform="translate(678.38,200.2) rotate(-45)" text-anchor="end" font-size="12.6" font-style="italic">EPHB6</text>
</g>
<g>
<g fill="none" stroke="#222" stroke-width="0.7">
</g>
<line x1="48.5" y1="300.8" x2="48.5" y2="430.4" stroke="#888" stroke-width="0.9"/>
<line x1="44.8" y1="430.4" x2="48.5" y2="430.4" stroke="#888" stroke-width="0.9"/>
<text x="39.5" y="434.8" text-anchor="end" font-size="12.6">0</text>
<line x1="44.8" y1="398" x2="48.5" y2="398" stroke="#888" stroke-width="0.9"/>
<text x="39.5" y="402.4" text-anchor="end" font-size="12.6">20</text>
<line x1="44.8" y1="365.6" x2="48.5" y2="365.6" stroke="#888" stroke-width="0.9"/>
<text x="39.5" y="370" text-anchor="end" font-size="12.6">40</text>
<line x1="44.8" y1="333.2" x2="48.5" y2="333.2" stroke="#888" stroke-width="0.9"/>
<text x="39.5" y="337.6" text-anchor="end" font-size="12.6">60</text>
<line x1="44.8" y1="300.8" x2="48.5" y2="300.8" stroke="#888" stroke-width="0.9"/>
<text x="39.5" y="305.2" text-anchor="end" font-size="12.6">80</text>
<text transform="translate(12.3,356) rotate(-90)" text-anchor="middle" font-size="12.8">Expression (RPKM)</text>
<text x="188.9" y="267.5" text-anchor="middle" font-size="12.92">EFNs (64 cell-stage mouse embryo)</text>
<text x="-0.6" y="264.6" font-size="19" font-weight="bold">c</text>
<rect x="296.6" y="301.3" width="11.7" height="6.8" fill="#8cc152"/>
<rect x="296.6" y="313" width="11.7" height="6.8" fill="#8ecbdc"/>
<text x="313.6" y="308.7" font-size="11">ICM</text>
<text x="313.6" y="321.2" font-size="11">TE</text>
<circle cx="68.95" cy="410.15" r="1.45"/>
<circle cx="68.95" cy="430.4" r="1.45"/>
<line x1="61.05" y1="430.4" x2="76.85" y2="430.4" stroke="#000" stroke-width="1.4"/>
<circle cx="88.56" cy="278.93" r="1.45"/>
<circle cx="88.56" cy="280.87" r="1.45"/>
<circle cx="88.56" cy="333.85" r="1.45"/>
<circle cx="88.56" cy="368.03" r="1.45"/>
<circle cx="88.56" cy="421.17" r="1.45"/>
<circle cx="88.56" cy="430.4" r="1.45"/>
<line x1="80.66" y1="430.4" x2="96.46" y2="430.4" stroke="#000" stroke-width="1.4"/>
<line x1="108.17" y1="414.52" x2="108.17" y2="409.02" stroke="#555" stroke-width="0.8" stroke-dasharray="1.1 1.3"/>
<line x1="104.22" y1="409.02" x2="112.12" y2="409.02" stroke="#555" stroke-width="0.9"/>
<rect x="100.27" y="414.52" width="15.8" height="15.88" fill="#a3d88a" stroke="#666" stroke-width="0.6"/>
<circle cx="108.17" cy="342.11" r="1.45"/>
<circle cx="108.17" cy="343.73" r="1.45"/>
<circle cx="108.17" cy="351.02" r="1.45"/>
<circle cx="108.17" cy="372.89" r="1.45"/>
<circle cx="108.17" cy="388.28" r="1.45"/>
<circle cx="108.17" cy="389.9" r="1.45"/>
<circle cx="108.17" cy="413.39" r="1.45"/>
<circle cx="108.17" cy="418.25" r="1.45"/>
<circle cx="108.17" cy="423.43" r="1.45"/>
<circle cx="108.17" cy="426.03" r="1.45"/>
<circle cx="108.17" cy="427.97" r="1.45"/>
<circle cx="108.17" cy="429.59" r="1.45"/>
<circle cx="108.17" cy="409.02" r="1.45"/>
<circle cx="108.17" cy="430.4" r="1.45"/>
<line x1="100.27" y1="428.78" x2="116.07" y2="428.78" stroke="#000" stroke-width="1.4"/>
<line x1="127.78" y1="364.3" x2="127.78" y2="312.95" stroke="#555" stroke-width="0.8" stroke-dasharray="1.1 1.3"/>
<line x1="123.83" y1="312.95" x2="131.73" y2="312.95" stroke="#555" stroke-width="0.9"/>
<line x1="127.78" y1="412.26" x2="127.78" y2="430.4" stroke="#555" stroke-width="0.8" stroke-dasharray="1.1 1.3"/>
<line x1="123.83" y1="430.4" x2="131.73" y2="430.4" stroke="#555" stroke-width="0.9"/>
<rect x="119.88" y="364.3" width="15.8" height="47.95" fill="#add8e6" stroke="#666" stroke-width="0.6"/>
<circle cx="127.78" cy="337.9" r="1.45"/>
<circle cx="127.78" cy="344.38" r="1.45"/>
<circle cx="127.78" cy="349.72" r="1.45"/>
<circle cx="127.78" cy="355.88" r="1.45"/>
<circle cx="127.78" cy="359.28" r="1.45"/>
<circle cx="127.78" cy="361.55" r="1.45"/>
<circle cx="127.78" cy="363.98" r="1.45"/>
<circle cx="127.78" cy="366.41" r="1.45"/>
<circle cx="127.78" cy="369.65" r="1.45"/>
<circle cx="127.78" cy="372.08" r="1.45"/>
<circle cx="127.78" cy="374.35" r="1.45"/>
<circle cx="127.78" cy="382.29" r="1.45"/>
<circle cx="127.78" cy="386.66" r="1.45"/>
<circle cx="127.78" cy="389.41" r="1.45"/>
<circle cx="127.78" cy="395.57" r="1.45"/>
<circle cx="127.78" cy="403.67" r="1.45"/>
<circle cx="127.78" cy="404.48" r="1.45"/>
<circle cx="127.78" cy="420.19" r="1.45"/>
<circle cx="127.78" cy="421.81" r="1.45"/>
<circle cx="127.78" cy="428.13" r="1.45"/>
<circle cx="127.78" cy="312.95" r="1.45"/>
<circle cx="127.78" cy="430.4" r="1.45"/>
<line x1="119.88" y1="384.39" x2="135.68" y2="384.39" stroke="#000" stroke-width="1.4"/>
<circle cx="147.39" cy="419.71" r="1.45"/>
<circle cx="147.39" cy="430.4" r="1.45"/>
<line x1="139.49" y1="430.4" x2="155.29" y2="430.4" stroke="#000" stroke-width="1.4"/>
<circle cx="167" cy="342.27" r="1.45"/>
<circle cx="167" cy="384.88" r="1.45"/>
<circle cx="167" cy="426.67" r="1.45"/>
<circle cx="167" cy="430.4" r="1.45"/>
<line x1="159.1" y1="430.4" x2="174.9" y2="430.4" stroke="#000" stroke-width="1.4"/>
<rect x="178.71" y="428.78" width="15.8" height="1.62" fill="#a3d88a" stroke="#666" stroke-width="0.6"/>
<circle cx="186.61" cy="368.19" r="1.45"/>
<circle cx="186.61" cy="376.13" r="1.45"/>
<circle cx="186.61" cy="378.72" r="1.45"/>
<circle cx="186.61" cy="414.2" r="1.45"/>
<circle cx="186.61" cy="415.33" r="1.45"/>
<circle cx="186.61" cy="428.78" r="1.45"/>
<circle cx="186.61" cy="429.75" r="1.45"/>
<circle cx="186.61" cy="430.4" r="1.45"/>
<line x1="178.71" y1="430.4" x2="194.51" y2="430.4" stroke="#000" stroke-width="1.4"/>
<line x1="206.22" y1="402.37" x2="206.22" y2="368.68" stroke="#555" stroke-width="0.8" stroke-dasharray="1.1 1.3"/>
<line x1="202.27" y1="368.68" x2="210.17" y2="368.68" stroke="#555" stroke-width="0.9"/>
<rect x="198.32" y="402.37" width="15.8" height="28.03" fill="#add8e6" stroke="#666" stroke-width="0.6"/>
<circle cx="206.22" cy="321.21" r="1.45"/>
<circle cx="206.22" cy="354.75" r="1.45"/>
<circle cx="206.22" cy="381.8" r="1.45"/>
<circle cx="206.22" cy="386.66" r="1.45"/>
<circle cx="206.22" cy="402.86" r="1.45"/>
<circle cx="206.22" cy="404.48" r="1.45"/>
<circle cx="206.22" cy="406.1" r="1.45"/>
<circle cx="206.22" cy="407.72" r="1.45"/>
<circle cx="206.22" cy="412.58" r="1.45"/>
<circle cx="206.22" cy="420.68" r="1.45"/>
<circle cx="206.22" cy="429.75" r="1.45"/>
<circle cx="206.22" cy="368.68" r="1.45"/>
<circle cx="206.22" cy="430.4" r="1.45"/>
<line x1="198.32" y1="429.91" x2="214.12" y2="429.91" stroke="#000" stroke-width="1.4"/>
<circle cx="225.83" cy="421.65" r="1.45"/>
<circle cx="225.83" cy="430.4" r="1.45"/>
<line x1="217.93" y1="430.4" x2="233.73" y2="430.4" stroke="#000" stroke-width="1.4"/>
<circle cx="245.44" cy="394.11" r="1.45"/>
<circle cx="245.44" cy="427.16" r="1.45"/>
<circle cx="245.44" cy="430.4" r="1.45"/>
<line x1="237.54" y1="430.4" x2="253.34" y2="430.4" stroke="#000" stroke-width="1.4"/>
<circle cx="265.05" cy="399.13" r="1.45"/>
<circle cx="265.05" cy="414.2" r="1.45"/>
<circle cx="265.05" cy="415.01" r="1.45"/>
<circle cx="265.05" cy="430.4" r="1.45"/>
<line x1="257.15" y1="430.4" x2="272.95" y2="430.4" stroke="#000" stroke-width="1.4"/>
<circle cx="284.66" cy="416.14" r="1.45"/>
<circle cx="284.66" cy="417.44" r="1.45"/>
<circle cx="284.66" cy="424.08" r="1.45"/>
<circle cx="284.66" cy="427.16" r="1.45"/>
<circle cx="284.66" cy="430.4" r="1.45"/>
<line x1="276.76" y1="430.4" x2="292.56" y2="430.4" stroke="#000" stroke-width="1.4"/>
<circle cx="304.27" cy="386.98" r="1.45"/>
<circle cx="304.27" cy="401.56" r="1.45"/>
<circle cx="304.27" cy="421.81" r="1.45"/>
<circle cx="304.27" cy="427" r="1.45"/>
<circle cx="304.27" cy="428.78" r="1.45"/>
<circle cx="304.27" cy="430.4" r="1.45"/>
<line x1="296.37" y1="430.4" x2="312.17" y2="430.4" stroke="#000" stroke-width="1.4"/>
<line x1="323.88" y1="398.32" x2="323.88" y2="382.77" stroke="#555" stroke-width="0.8" stroke-dasharray="1.1 1.3"/>
<line x1="319.93" y1="382.77" x2="327.83" y2="382.77" stroke="#555" stroke-width="0.9"/>
<line x1="323.88" y1="428.46" x2="323.88" y2="430.4" stroke="#555" stroke-width="0.8" stroke-dasharray="1.1 1.3"/>
<line x1="319.93" y1="430.4" x2="327.83" y2="430.4" stroke="#555" stroke-width="0.9"/>
<rect x="315.98" y="398.32" width="15.8" height="30.13" fill="#add8e6" stroke="#666" stroke-width="0.6"/>
<circle cx="323.88" cy="386.17" r="1.45"/>
<circle cx="323.88" cy="387.47" r="1.45"/>
<circle cx="323.88" cy="388.44" r="1.45"/>
<circle cx="323.88" cy="392.33" r="1.45"/>
<circle cx="323.88" cy="393.95" r="1.45"/>
<circle cx="323.88" cy="396.06" r="1.45"/>
<circle cx="323.88" cy="398.65" r="1.45"/>
<circle cx="323.88" cy="400.11" r="1.45"/>
<circle cx="323.88" cy="401.56" r="1.45"/>
<circle cx="323.88" cy="403.51" r="1.45"/>
<circle cx="323.88" cy="404.97" r="1.45"/>
<circle cx="323.88" cy="410.31" r="1.45"/>
<circle cx="323.88" cy="412.09" r="1.45"/>
<circle cx="323.88" cy="415.01" r="1.45"/>
<circle cx="323.88" cy="419.38" r="1.45"/>
<circle cx="323.88" cy="421.81" r="1.45"/>
<circle cx="323.88" cy="424.08" r="1.45"/>
<circle cx="323.88" cy="426.35" r="1.45"/>
<circle cx="323.88" cy="427.32" r="1.45"/>
<circle cx="323.88" cy="428.46" r="1.45"/>
<circle cx="323.88" cy="429.59" r="1.45"/>
<circle cx="323.88" cy="382.77" r="1.45"/>
<circle cx="323.88" cy="430.4" r="1.45"/>
<line x1="315.98" y1="413.39" x2="331.78" y2="413.39" stroke="#000" stroke-width="1.4"/>
<line x1="62.75" y1="437.5" x2="90.25" y2="437.5" stroke="#000" stroke-width="1.3"/>
<text transform="translate(81,449.8) rotate(-45)" text-anchor="end" font-size="12.6" font-style="italic">Efna1</text>
<line x1="102.35" y1="437.5" x2="129.85" y2="437.5" stroke="#000" stroke-width="1.3"/>
<text transform="translate(120.6,449.8) rotate(-45)" text-anchor="end" font-size="12.6" font-style="italic">Efna2</text>
<line x1="141.9" y1="437.5" x2="169.4" y2="437.5" stroke="#000" stroke-width="1.3"/>
<text transform="translate(160.15,449.8) rotate(-45)" text-anchor="end" font-size="12.6" font-style="italic">Efna3</text>
<line x1="182.15" y1="437.5" x2="209.65" y2="437.5" stroke="#000" stroke-width="1.3"/>
<text transform="translate(200.4,449.8) rotate(-45)" text-anchor="end" font-size="12.6" font-style="italic">Efna4</text>
<line x1="222.15" y1="437.5" x2="249.65" y2="437.5" stroke="#000" stroke-width="1.3"/>
<text transform="translate(240.4,449.8) rotate(-45)" text-anchor="end" font-size="12.6" font-style="italic">Efna5</text>
<line x1="261.45" y1="437.5" x2="288.95" y2="437.5" stroke="#000" stroke-width="1.3"/>
<text transform="translate(279.7,449.8) rotate(-45)" text-anchor="end" font-size="12.6" font-style="italic">Efnb1</text>
<line x1="299.05" y1="437.5" x2="326.55" y2="437.5" stroke="#000" stroke-width="1.3"/>
<text transform="translate(317.3,449.8) rotate(-45)" text-anchor="end" font-size="12.6" font-style="italic">Efnb2</text>
</g>
<g>
<g fill="none" stroke="#222" stroke-width="0.7">
</g>
<line x1="404.5" y1="284.3" x2="404.5" y2="430.6" stroke="#888" stroke-width="0.9"/>
<line x1="400.8" y1="430.6" x2="404.5" y2="430.6" stroke="#888" stroke-width="0.9"/>
<text x="396.8" y="435" text-anchor="end" font-size="12.6">0</text>
<line x1="400.8" y1="401.34" x2="404.5" y2="401.34" stroke="#888" stroke-width="0.9"/>
<text x="396.8" y="405.74" text-anchor="end" font-size="12.6">100</text>
<line x1="400.8" y1="372.08" x2="404.5" y2="372.08" stroke="#888" stroke-width="0.9"/>
<text x="396.8" y="376.48" text-anchor="end" font-size="12.6">200</text>
<line x1="400.8" y1="342.82" x2="404.5" y2="342.82" stroke="#888" stroke-width="0.9"/>
<text x="396.8" y="347.22" text-anchor="end" font-size="12.6">300</text>
<line x1="400.8" y1="313.56" x2="404.5" y2="313.56" stroke="#888" stroke-width="0.9"/>
<text x="396.8" y="317.96" text-anchor="end" font-size="12.6">400</text>
<line x1="400.8" y1="284.3" x2="404.5" y2="284.3" stroke="#888" stroke-width="0.9"/>
<text x="396.8" y="288.7" text-anchor="end" font-size="12.6">500</text>
<text transform="translate(363.3,356.7) rotate(-90)" text-anchor="middle" font-size="12.8">Expression (RPKM)</text>
<text x="540.3" y="268.6" text-anchor="middle" font-size="12.92">EFNs (Day 5 human embryo)</text>
<text x="351.4" y="264.5" font-size="19" font-weight="bold">d</text>
<rect x="636.2" y="300.2" width="11.5" height="6.8" fill="#8cc152"/>
<rect x="636.2" y="312.2" width="11.5" height="6.8" fill="#8ecbdc"/>
<text x="653" y="307.5" font-size="11">ICM</text>
<text x="653" y="319.7" font-size="11">TE</text>
<line x1="423.2" y1="415.38" x2="423.2" y2="365.64" stroke="#555" stroke-width="0.8" stroke-dasharray="1.1 1.3"/>
<line x1="419.82" y1="365.64" x2="426.57" y2="365.64" stroke="#555" stroke-width="0.9"/>
<line x1="423.2" y1="430.31" x2="423.2" y2="430.6" stroke="#555" stroke-width="0.8" stroke-dasharray="1.1 1.3"/>
<line x1="419.82" y1="430.6" x2="426.57" y2="430.6" stroke="#555" stroke-width="0.9"/>
<rect x="416.45" y="415.38" width="13.5" height="14.92" fill="#a3d88a" stroke="#666" stroke-width="0.6"/>
<circle cx="423.2" cy="404.56" r="1.45"/>
<circle cx="423.2" cy="398.71" r="1.45"/>
<circle cx="423.2" cy="391.51" r="1.45"/>
<circle cx="423.2" cy="430.6" r="1.45"/>
<circle cx="423.2" cy="429.8" r="1.45"/>
<circle cx="423.2" cy="429" r="1.45"/>
<circle cx="423.2" cy="428.2" r="1.45"/>
<circle cx="423.2" cy="427.4" r="1.45"/>
<circle cx="423.2" cy="426.6" r="1.45"/>
<circle cx="423.2" cy="425.8" r="1.45"/>
<circle cx="423.2" cy="425" r="1.45"/>
<circle cx="423.2" cy="424.2" r="1.45"/>
<circle cx="423.2" cy="423.4" r="1.45"/>
<circle cx="423.2" cy="422.6" r="1.45"/>
<circle cx="423.2" cy="421.8" r="1.45"/>
<circle cx="423.2" cy="421" r="1.45"/>
<circle cx="423.2" cy="420.2" r="1.45"/>
<circle cx="423.2" cy="419.4" r="1.45"/>
<circle cx="423.2" cy="418.6" r="1.45"/>
<circle cx="423.2" cy="417.8" r="1.45"/>
<circle cx="423.2" cy="417" r="1.45"/>
<circle cx="423.2" cy="416.2" r="1.45"/>
<circle cx="423.2" cy="415.4" r="1.45"/>
<circle cx="423.2" cy="414.6" r="1.45"/>
<circle cx="423.2" cy="414.21" r="1.45"/>
<circle cx="423.2" cy="412.21" r="1.45"/>
<circle cx="423.2" cy="410.21" r="1.45"/>
<circle cx="423.2" cy="408.21" r="1.45"/>
<circle cx="423.2" cy="365.64" r="1.45"/>
<circle cx="423.2" cy="430.6" r="1.45"/>
<line x1="416.45" y1="427.38" x2="429.95" y2="427.38" stroke="#000" stroke-width="1.4"/>
<line x1="439.84" y1="380.27" x2="439.84" y2="279.91" stroke="#555" stroke-width="0.8" stroke-dasharray="1.1 1.3"/>
<line x1="436.46" y1="279.91" x2="443.21" y2="279.91" stroke="#555" stroke-width="0.9"/>
<line x1="439.84" y1="413.63" x2="439.84" y2="430.6" stroke="#555" stroke-width="0.8" stroke-dasharray="1.1 1.3"/>
<line x1="436.46" y1="430.6" x2="443.21" y2="430.6" stroke="#555" stroke-width="0.9"/>
<rect x="433.09" y="380.27" width="13.5" height="33.36" fill="#add8e6" stroke="#666" stroke-width="0.6"/>
<circle cx="439.84" cy="358.04" r="1.45"/>
<circle cx="439.84" cy="351.6" r="1.45"/>
<circle cx="439.84" cy="349.26" r="1.45"/>
<circle cx="439.84" cy="337.85" r="1.45"/>
<circle cx="439.84" cy="332.58" r="1.45"/>
<circle cx="439.84" cy="328.19" r="1.45"/>
<circle cx="439.84" cy="325.26" r="1.45"/>
<circle cx="439.84" cy="322.34" r="1.45"/>
<circle cx="439.84" cy="319.41" r="1.45"/>
<circle cx="439.84" cy="315.02" r="1.45"/>
<circle cx="439.84" cy="310.63" r="1.45"/>
<circle cx="439.84" cy="301.86" r="1.45"/>
<circle cx="439.84" cy="300.98" r="1.45"/>
<circle cx="439.84" cy="290.74" r="1.45"/>
<circle cx="439.84" cy="430.6" r="1.45"/>
<circle cx="439.84" cy="429.8" r="1.45"/>
<circle cx="439.84" cy="429" r="1.45"/>
<circle cx="439.84" cy="428.2" r="1.45"/>
<circle cx="439.84" cy="427.4" r="1.45"/>
<circle cx="439.84" cy="426.6" r="1.45"/>
<circle cx="439.84" cy="425.8" r="1.45"/>
<circle cx="439.84" cy="425" r="1.45"/>
<circle cx="439.84" cy="424.2" r="1.45"/>
<circle cx="439.84" cy="423.4" r="1.45"/>
<circle cx="439.84" cy="422.6" r="1.45"/>
<circle cx="439.84" cy="421.8" r="1.45"/>
<circle cx="439.84" cy="421" r="1.45"/>
<circle cx="439.84" cy="420.2" r="1.45"/>
<circle cx="439.84" cy="419.4" r="1.45"/>
<circle cx="439.84" cy="418.6" r="1.45"/>
<circle cx="439.84" cy="417.8" r="1.45"/>
<circle cx="439.84" cy="417" r="1.45"/>
<circle cx="439.84" cy="416.2" r="1.45"/>
<circle cx="439.84" cy="415.4" r="1.45"/>
<circle cx="439.84" cy="414.6" r="1.45"/>
<circle cx="439.84" cy="413.8" r="1.45"/>
<circle cx="439.84" cy="413" r="1.45"/>
<circle cx="439.84" cy="412.2" r="1.45"/>
<circle cx="439.84" cy="411.4" r="1.45"/>
<circle cx="439.84" cy="410.6" r="1.45"/>
<circle cx="439.84" cy="409.8" r="1.45"/>
<circle cx="439.84" cy="409" r="1.45"/>
<circle cx="439.84" cy="408.2" r="1.45"/>
<circle cx="439.84" cy="407.4" r="1.45"/>
<circle cx="439.84" cy="406.6" r="1.45"/>
<circle cx="439.84" cy="405.8" r="1.45"/>
<circle cx="439.84" cy="405" r="1.45"/>
<circle cx="439.84" cy="404.2" r="1.45"/>
<circle cx="439.84" cy="403.4" r="1.45"/>
<circle cx="439.84" cy="402.6" r="1.45"/>
<circle cx="439.84" cy="401.8" r="1.45"/>
<circle cx="439.84" cy="401" r="1.45"/>
<circle cx="439.84" cy="400.2" r="1.45"/>
<circle cx="439.84" cy="399.4" r="1.45"/>
<circle cx="439.84" cy="398.6" r="1.45"/>
<circle cx="439.84" cy="397.8" r="1.45"/>
<circle cx="439.84" cy="397" r="1.45"/>
<circle cx="439.84" cy="396.2" r="1.45"/>
<circle cx="439.84" cy="395.4" r="1.45"/>
<circle cx="439.84" cy="394.6" r="1.45"/>
<circle cx="439.84" cy="393.8" r="1.45"/>
<circle cx="439.84" cy="393" r="1.45"/>
<circle cx="439.84" cy="392.2" r="1.45"/>
<circle cx="439.84" cy="391.4" r="1.45"/>
<circle cx="439.84" cy="390.6" r="1.45"/>
<circle cx="439.84" cy="389.8" r="1.45"/>
<circle cx="439.84" cy="389" r="1.45"/>
<circle cx="439.84" cy="388.2" r="1.45"/>
<circle cx="439.84" cy="387.4" r="1.45"/>
<circle cx="439.84" cy="386.6" r="1.45"/>
<circle cx="439.84" cy="385.8" r="1.45"/>
<circle cx="439.84" cy="385" r="1.45"/>
<circle cx="439.84" cy="384.2" r="1.45"/>
<circle cx="439.84" cy="383.4" r="1.45"/>
<circle cx="439.84" cy="382.6" r="1.45"/>
<circle cx="439.84" cy="381.8" r="1.45"/>
<circle cx="439.84" cy="381" r="1.45"/>
<circle cx="439.84" cy="380.2" r="1.45"/>
<circle cx="439.84" cy="379.4" r="1.45"/>
<circle cx="439.84" cy="378.6" r="1.45"/>
<circle cx="439.84" cy="377.93" r="1.45"/>
<circle cx="439.84" cy="375.93" r="1.45"/>
<circle cx="439.84" cy="373.93" r="1.45"/>
<circle cx="439.84" cy="371.93" r="1.45"/>
<circle cx="439.84" cy="369.93" r="1.45"/>
<circle cx="439.84" cy="367.93" r="1.45"/>
<circle cx="439.84" cy="365.93" r="1.45"/>
<circle cx="439.84" cy="363.93" r="1.45"/>
<circle cx="439.84" cy="361.93" r="1.45"/>
<circle cx="439.84" cy="279.91" r="1.45"/>
<circle cx="439.84" cy="430.6" r="1.45"/>
<line x1="433.09" y1="398.71" x2="446.59" y2="398.71" stroke="#000" stroke-width="1.4"/>
<line x1="456.48" y1="430.01" x2="456.48" y2="427.91" stroke="#555" stroke-width="0.8" stroke-dasharray="1.1 1.3"/>
<line x1="453.11" y1="427.91" x2="459.86" y2="427.91" stroke="#555" stroke-width="0.9"/>
<rect x="449.73" y="430.01" width="13.5" height="0.59" fill="#a3d88a" stroke="#666" stroke-width="0.6"/>
<circle cx="456.48" cy="430.6" r="1.45"/>
<circle cx="456.48" cy="429.8" r="1.45"/>
<circle cx="456.48" cy="429" r="1.45"/>
<circle cx="456.48" cy="428.2" r="1.45"/>
<circle cx="456.48" cy="427.91" r="1.45"/>
<circle cx="456.48" cy="430.6" r="1.45"/>
<line x1="449.73" y1="430.6" x2="463.23" y2="430.6" stroke="#000" stroke-width="1.4"/>
<line x1="473.12" y1="430.01" x2="473.12" y2="422" stroke="#555" stroke-width="0.8" stroke-dasharray="1.1 1.3"/>
<line x1="469.75" y1="422" x2="476.5" y2="422" stroke="#555" stroke-width="0.9"/>
<rect x="466.37" y="430.01" width="13.5" height="0.59" fill="#add8e6" stroke="#666" stroke-width="0.6"/>
<circle cx="473.12" cy="430.6" r="1.45"/>
<circle cx="473.12" cy="429.8" r="1.45"/>
<circle cx="473.12" cy="429" r="1.45"/>
<circle cx="473.12" cy="428.2" r="1.45"/>
<circle cx="473.12" cy="427.4" r="1.45"/>
<circle cx="473.12" cy="426.6" r="1.45"/>
<circle cx="473.12" cy="426.21" r="1.45"/>
<circle cx="473.12" cy="424.41" r="1.45"/>
<circle cx="473.12" cy="422" r="1.45"/>
<circle cx="473.12" cy="430.6" r="1.45"/>
<line x1="466.37" y1="430.6" x2="479.87" y2="430.6" stroke="#000" stroke-width="1.4"/>
<line x1="489.76" y1="430.6" x2="489.76" y2="427.21" stroke="#555" stroke-width="0.8" stroke-dasharray="1.1 1.3"/>
<line x1="486.38" y1="427.21" x2="493.13" y2="427.21" stroke="#555" stroke-width="0.9"/>
<circle cx="489.76" cy="430.6" r="1.45"/>
<circle cx="489.76" cy="429.8" r="1.45"/>
<circle cx="489.76" cy="429" r="1.45"/>
<circle cx="489.76" cy="428.2" r="1.45"/>
<circle cx="489.76" cy="427.4" r="1.45"/>
<circle cx="489.76" cy="427.21" r="1.45"/>
<circle cx="489.76" cy="430.6" r="1.45"/>
<line x1="483.01" y1="430.6" x2="496.51" y2="430.6" stroke="#000" stroke-width="1.4"/>
<line x1="506.4" y1="429.2" x2="506.4" y2="418.4" stroke="#555" stroke-width="0.8" stroke-dasharray="1.1 1.3"/>
<line x1="503.02" y1="418.4" x2="509.77" y2="418.4" stroke="#555" stroke-width="0.9"/>
<rect x="499.65" y="429.2" width="13.5" height="1.4" fill="#add8e6" stroke="#666" stroke-width="0.6"/>
<circle cx="506.4" cy="430.6" r="1.45"/>
<circle cx="506.4" cy="429.8" r="1.45"/>
<circle cx="506.4" cy="429" r="1.45"/>
<circle cx="506.4" cy="428.2" r="1.45"/>
<circle cx="506.4" cy="427.4" r="1.45"/>
<circle cx="506.4" cy="426.6" r="1.45"/>
<circle cx="506.4" cy="425.8" r="1.45"/>
<circle cx="506.4" cy="425" r="1.45"/>
<circle cx="506.4" cy="424.2" r="1.45"/>
<circle cx="506.4" cy="423.4" r="1.45"/>
<circle cx="506.4" cy="422.6" r="1.45"/>
<circle cx="506.4" cy="421.8" r="1.45"/>
<circle cx="506.4" cy="421" r="1.45"/>
<circle cx="506.4" cy="418.4" r="1.45"/>
<circle cx="506.4" cy="430.6" r="1.45"/>
<line x1="499.65" y1="430.6" x2="513.15" y2="430.6" stroke="#000" stroke-width="1.4"/>
<line x1="523.04" y1="415.91" x2="523.04" y2="385.54" stroke="#555" stroke-width="0.8" stroke-dasharray="1.1 1.3"/>
<line x1="519.66" y1="385.54" x2="526.41" y2="385.54" stroke="#555" stroke-width="0.9"/>
<line x1="523.04" y1="428.29" x2="523.04" y2="430.6" stroke="#555" stroke-width="0.8" stroke-dasharray="1.1 1.3"/>
<line x1="519.66" y1="430.6" x2="526.41" y2="430.6" stroke="#555" stroke-width="0.9"/>
<rect x="516.29" y="415.91" width="13.5" height="12.38" fill="#a3d88a" stroke="#666" stroke-width="0.6"/>
<circle cx="523.04" cy="397.24" r="1.45"/>
<circle cx="523.04" cy="430.6" r="1.45"/>
<circle cx="523.04" cy="429.8" r="1.45"/>
<circle cx="523.04" cy="429" r="1.45"/>
<circle cx="523.04" cy="428.2" r="1.45"/>
<circle cx="523.04" cy="427.4" r="1.45"/>
<circle cx="523.04" cy="426.6" r="1.45"/>
<circle cx="523.04" cy="425.8" r="1.45"/>
<circle cx="523.04" cy="425" r="1.45"/>
<circle cx="523.04" cy="424.2" r="1.45"/>
<circle cx="523.04" cy="423.4" r="1.45"/>
<circle cx="523.04" cy="422.6" r="1.45"/>
<circle cx="523.04" cy="421.8" r="1.45"/>
<circle cx="523.04" cy="421" r="1.45"/>
<circle cx="523.04" cy="420.2" r="1.45"/>
<circle cx="523.04" cy="419.4" r="1.45"/>
<circle cx="523.04" cy="418.6" r="1.45"/>
<circle cx="523.04" cy="417.8" r="1.45"/>
<circle cx="523.04" cy="417" r="1.45"/>
<circle cx="523.04" cy="416.2" r="1.45"/>
<circle cx="523.04" cy="415.4" r="1.45"/>
<circle cx="523.04" cy="414.6" r="1.45"/>
<circle cx="523.04" cy="413.8" r="1.45"/>
<circle cx="523.04" cy="413" r="1.45"/>
<circle cx="523.04" cy="412.2" r="1.45"/>
<circle cx="523.04" cy="411.4" r="1.45"/>
<circle cx="523.04" cy="410.6" r="1.45"/>
<circle cx="523.04" cy="409.8" r="1.45"/>
<circle cx="523.04" cy="409" r="1.45"/>
<circle cx="523.04" cy="408.36" r="1.45"/>
<circle cx="523.04" cy="406.36" r="1.45"/>
<circle cx="523.04" cy="404.36" r="1.45"/>
<circle cx="523.04" cy="402.36" r="1.45"/>
<circle cx="523.04" cy="385.54" r="1.45"/>
<circle cx="523.04" cy="430.6" r="1.45"/>
<line x1="516.29" y1="421.3" x2="529.79" y2="421.3" stroke="#000" stroke-width="1.4"/>
<line x1="539.68" y1="409.59" x2="539.68" y2="367.98" stroke="#555" stroke-width="0.8" stroke-dasharray="1.1 1.3"/>
<line x1="536.3" y1="367.98" x2="543.05" y2="367.98" stroke="#555" stroke-width="0.9"/>
<line x1="539.68" y1="426.91" x2="539.68" y2="430.6" stroke="#555" stroke-width="0.8" stroke-dasharray="1.1 1.3"/>
<line x1="536.3" y1="430.6" x2="543.05" y2="430.6" stroke="#555" stroke-width="0.9"/>
<rect x="532.93" y="409.59" width="13.5" height="17.32" fill="#add8e6" stroke="#666" stroke-width="0.6"/>
<circle cx="539.68" cy="388.47" r="1.45"/>
<circle cx="539.68" cy="387" r="1.45"/>
<circle cx="539.68" cy="379.1" r="1.45"/>
<circle cx="539.68" cy="430.6" r="1.45"/>
<circle cx="539.68" cy="429.8" r="1.45"/>
<circle cx="539.68" cy="429" r="1.45"/>
<circle cx="539.68" cy="428.2" r="1.45"/>
<circle cx="539.68" cy="427.4" r="1.45"/>
<circle cx="539.68" cy="426.6" r="1.45"/>
<circle cx="539.68" cy="425.8" r="1.45"/>
<circle cx="539.68" cy="425" r="1.45"/>
<circle cx="539.68" cy="424.2" r="1.45"/>
<circle cx="539.68" cy="423.4" r="1.45"/>
<circle cx="539.68" cy="422.6" r="1.45"/>
<circle cx="539.68" cy="421.8" r="1.45"/>
<circle cx="539.68" cy="421" r="1.45"/>
<circle cx="539.68" cy="420.2" r="1.45"/>
<circle cx="539.68" cy="419.4" r="1.45"/>
<circle cx="539.68" cy="418.6" r="1.45"/>
<circle cx="539.68" cy="417.8" r="1.45"/>
<circle cx="539.68" cy="417" r="1.45"/>
<circle cx="539.68" cy="416.2" r="1.45"/>
<circle cx="539.68" cy="415.4" r="1.45"/>
<circle cx="539.68" cy="414.6" r="1.45"/>
<circle cx="539.68" cy="413.8" r="1.45"/>
<circle cx="539.68" cy="413" r="1.45"/>
<circle cx="539.68" cy="412.2" r="1.45"/>
<circle cx="539.68" cy="411.4" r="1.45"/>
<circle cx="539.68" cy="410.6" r="1.45"/>
<circle cx="539.68" cy="409.8" r="1.45"/>
<circle cx="539.68" cy="409" r="1.45"/>
<circle cx="539.68" cy="408.2" r="1.45"/>
<circle cx="539.68" cy="407.4" r="1.45"/>
<circle cx="539.68" cy="406.6" r="1.45"/>
<circle cx="539.68" cy="405.8" r="1.45"/>
<circle cx="539.68" cy="405.44" r="1.45"/>
<circle cx="539.68" cy="403.44" r="1.45"/>
<circle cx="539.68" cy="401.44" r="1.45"/>
<circle cx="539.68" cy="399.44" r="1.45"/>
<circle cx="539.68" cy="397.44" r="1.45"/>
<circle cx="539.68" cy="395.44" r="1.45"/>
<circle cx="539.68" cy="393.44" r="1.45"/>
<circle cx="539.68" cy="391.44" r="1.45"/>
<circle cx="539.68" cy="367.98" r="1.45"/>
<circle cx="539.68" cy="430.6" r="1.45"/>
<line x1="532.93" y1="416.2" x2="546.43" y2="416.2" stroke="#000" stroke-width="1.4"/>
<line x1="556.32" y1="430.6" x2="556.32" y2="427.38" stroke="#555" stroke-width="0.8" stroke-dasharray="1.1 1.3"/>
<line x1="552.94" y1="427.38" x2="559.69" y2="427.38" stroke="#555" stroke-width="0.9"/>
<circle cx="556.32" cy="430.6" r="1.45"/>
<circle cx="556.32" cy="429.8" r="1.45"/>
<circle cx="556.32" cy="429" r="1.45"/>
<circle cx="556.32" cy="428.2" r="1.45"/>
<circle cx="556.32" cy="427.4" r="1.45"/>
<circle cx="556.32" cy="427.38" r="1.45"/>
<circle cx="556.32" cy="430.6" r="1.45"/>
<line x1="549.57" y1="430.6" x2="563.07" y2="430.6" stroke="#000" stroke-width="1.4"/>
<line x1="572.96" y1="430.6" x2="572.96" y2="429.72" stroke="#555" stroke-width="0.8" stroke-dasharray="1.1 1.3"/>
<line x1="569.59" y1="429.72" x2="576.34" y2="429.72" stroke="#555" stroke-width="0.9"/>
<circle cx="572.96" cy="430.6" r="1.45"/>
<circle cx="572.96" cy="429.72" r="1.45"/>
<circle cx="572.96" cy="430.6" r="1.45"/>
<line x1="566.21" y1="430.6" x2="579.71" y2="430.6" stroke="#000" stroke-width="1.4"/>
<line x1="589.6" y1="430.6" x2="589.6" y2="425.04" stroke="#555" stroke-width="0.8" stroke-dasharray="1.1 1.3"/>
<line x1="586.23" y1="425.04" x2="592.98" y2="425.04" stroke="#555" stroke-width="0.9"/>
<circle cx="589.6" cy="430.6" r="1.45"/>
<circle cx="589.6" cy="429.8" r="1.45"/>
<circle cx="589.6" cy="429" r="1.45"/>
<circle cx="589.6" cy="428.2" r="1.45"/>
<circle cx="589.6" cy="427.4" r="1.45"/>
<circle cx="589.6" cy="426.6" r="1.45"/>
<circle cx="589.6" cy="425.8" r="1.45"/>
<circle cx="589.6" cy="425.04" r="1.45"/>
<circle cx="589.6" cy="430.6" r="1.45"/>
<line x1="582.85" y1="430.6" x2="596.35" y2="430.6" stroke="#000" stroke-width="1.4"/>
<line x1="606.24" y1="430.6" x2="606.24" y2="427.67" stroke="#555" stroke-width="0.8" stroke-dasharray="1.1 1.3"/>
<line x1="602.87" y1="427.67" x2="609.62" y2="427.67" stroke="#555" stroke-width="0.9"/>
<circle cx="606.24" cy="430.6" r="1.45"/>
<circle cx="606.24" cy="429.8" r="1.45"/>
<circle cx="606.24" cy="429" r="1.45"/>
<circle cx="606.24" cy="428.2" r="1.45"/>
<circle cx="606.24" cy="427.67" r="1.45"/>
<circle cx="606.24" cy="430.6" r="1.45"/>
<line x1="599.49" y1="430.6" x2="612.99" y2="430.6" stroke="#000" stroke-width="1.4"/>
<line x1="622.88" y1="430.6" x2="622.88" y2="425.33" stroke="#555" stroke-width="0.8" stroke-dasharray="1.1 1.3"/>
<line x1="619.5" y1="425.33" x2="626.25" y2="425.33" stroke="#555" stroke-width="0.9"/>
<circle cx="622.88" cy="430.6" r="1.45"/>
<circle cx="622.88" cy="429.8" r="1.45"/>
<circle cx="622.88" cy="429" r="1.45"/>
<circle cx="622.88" cy="428.2" r="1.45"/>
<circle cx="622.88" cy="427.4" r="1.45"/>
<circle cx="622.88" cy="426.6" r="1.45"/>
<circle cx="622.88" cy="425.8" r="1.45"/>
<circle cx="622.88" cy="425.33" r="1.45"/>
<circle cx="622.88" cy="430.6" r="1.45"/>
<line x1="616.13" y1="430.6" x2="629.63" y2="430.6" stroke="#000" stroke-width="1.4"/>
<line x1="639.52" y1="429.72" x2="639.52" y2="413.34" stroke="#555" stroke-width="0.8" stroke-dasharray="1.1 1.3"/>
<line x1="636.14" y1="413.34" x2="642.89" y2="413.34" stroke="#555" stroke-width="0.9"/>
<rect x="632.77" y="429.72" width="13.5" height="0.88" fill="#add8e6" stroke="#666" stroke-width="0.6"/>
<circle cx="639.52" cy="415.38" r="1.45"/>
<circle cx="639.52" cy="430.6" r="1.45"/>
<circle cx="639.52" cy="429.8" r="1.45"/>
<circle cx="639.52" cy="429" r="1.45"/>
<circle cx="639.52" cy="428.2" r="1.45"/>
<circle cx="639.52" cy="427.4" r="1.45"/>
<circle cx="639.52" cy="426.6" r="1.45"/>
<circle cx="639.52" cy="425.8" r="1.45"/>
<circle cx="639.52" cy="425" r="1.45"/>
<circle cx="639.52" cy="424.2" r="1.45"/>
<circle cx="639.52" cy="423.4" r="1.45"/>
<circle cx="639.52" cy="422.6" r="1.45"/>
<circle cx="639.52" cy="421.8" r="1.45"/>
<circle cx="639.52" cy="421" r="1.45"/>
<circle cx="639.52" cy="420.36" r="1.45"/>
<circle cx="639.52" cy="418.56" r="1.45"/>
<circle cx="639.52" cy="416.76" r="1.45"/>
<circle cx="639.52" cy="413.34" r="1.45"/>
<circle cx="639.52" cy="430.6" r="1.45"/>
<line x1="632.77" y1="430.6" x2="646.27" y2="430.6" stroke="#000" stroke-width="1.4"/>
<line x1="656.16" y1="430.6" x2="656.16" y2="427.97" stroke="#555" stroke-width="0.8" stroke-dasharray="1.1 1.3"/>
<line x1="652.78" y1="427.97" x2="659.53" y2="427.97" stroke="#555" stroke-width="0.9"/>
<circle cx="656.16" cy="430.6" r="1.45"/>
<circle cx="656.16" cy="429.8" r="1.45"/>
<circle cx="656.16" cy="429" r="1.45"/>
<circle cx="656.16" cy="428.2" r="1.45"/>
<circle cx="656.16" cy="427.97" r="1.45"/>
<circle cx="656.16" cy="430.6" r="1.45"/>
<line x1="649.41" y1="430.6" x2="662.91" y2="430.6" stroke="#000" stroke-width="1.4"/>
<line x1="672.8" y1="430.6" x2="672.8" y2="429.72" stroke="#555" stroke-width="0.8" stroke-dasharray="1.1 1.3"/>
<line x1="669.42" y1="429.72" x2="676.17" y2="429.72" stroke="#555" stroke-width="0.9"/>
<circle cx="672.8" cy="430.6" r="1.45"/>
<circle cx="672.8" cy="429.72" r="1.45"/>
<circle cx="672.8" cy="430.6" r="1.45"/>
<line x1="666.05" y1="430.6" x2="679.55" y2="430.6" stroke="#000" stroke-width="1.4"/>
<line x1="419.3" y1="437.5" x2="440.1" y2="437.5" stroke="#000" stroke-width="1.3"/>
<text transform="translate(436.1,450.2) rotate(-45)" text-anchor="end" font-size="12.6" font-style="italic">EFNA1</text>
<line x1="452.59" y1="437.5" x2="473.39" y2="437.5" stroke="#000" stroke-width="1.3"/>
<text transform="translate(469.39,450.2) rotate(-45)" text-anchor="end" font-size="12.6" font-style="italic">EFNA2</text>
<line x1="485.88" y1="437.5" x2="506.68" y2="437.5" stroke="#000" stroke-width="1.3"/>
<text transform="translate(502.68,450.2) rotate(-45)" text-anchor="end" font-size="12.6" font-style="italic">EFNA3</text>
<line x1="519.17" y1="437.5" x2="539.97" y2="437.5" stroke="#000" stroke-width="1.3"/>
<text transform="translate(535.97,450.2) rotate(-45)" text-anchor="end" font-size="12.6" font-style="italic">EFNA4</text>
<line x1="552.46" y1="437.5" x2="573.26" y2="437.5" stroke="#000" stroke-width="1.3"/>
<text transform="translate(569.26,450.2) rotate(-45)" text-anchor="end" font-size="12.6" font-style="italic">EFNA5</text>
<line x1="585.75" y1="437.5" x2="606.55" y2="437.5" stroke="#000" stroke-width="1.3"/>
<text transform="translate(602.55,450.2) rotate(-45)" text-anchor="end" font-size="12.6" font-style="italic">EFNB1</text>
<line x1="619.04" y1="437.5" x2="639.84" y2="437.5" stroke="#000" stroke-width="1.3"/>
<text transform="translate(635.84,450.2) rotate(-45)" text-anchor="end" font-size="12.6" font-style="italic">EFNB2</text>
<line x1="652.33" y1="437.5" x2="673.13" y2="437.5" stroke="#000" stroke-width="1.3"/>
<text transform="translate(669.13,450.2) rotate(-45)" text-anchor="end" font-size="12.6" font-style="italic">EFNB3</text>
</g>
<text x="-0.8" y="512.6" font-size="19" font-weight="bold">e</text>
<line x1="22.2" y1="541.0" x2="207.7" y2="541.0" stroke="#111" stroke-width="1.15"/>
<line x1="22.2" y1="545.5" x2="207.7" y2="545.5" stroke="#111" stroke-width="1.15"/>
<line x1="224" y1="540.5" x2="409" y2="540.5" stroke="#111" stroke-width="1.15"/>
<line x1="224" y1="545.5" x2="409" y2="545.5" stroke="#111" stroke-width="1.15"/>
<ellipse cx="65.9" cy="543.5" rx="4.3" ry="20.8" fill="#fff" stroke="#000" stroke-width="1.1"/>
<ellipse cx="71.1" cy="543.5" rx="4.4" ry="20.8" fill="#fff" stroke="#000" stroke-width="1.1"/>
<ellipse cx="144.5" cy="543.8" rx="4.3" ry="21.2" fill="#000"/>
<ellipse cx="268.5" cy="543.7" rx="4.9" ry="21.4" fill="#000"/>
<ellipse cx="272.7" cy="543.7" rx="4.9" ry="21.4" fill="#000"/>
<ellipse cx="346" cy="543.5" rx="4.2" ry="20.9" fill="#fff" stroke="#000" stroke-width="1.1"/>
<text x="128.3" y="516.5" font-size="12.6">EFNA</text>
<text x="29" y="569.3" font-size="12.6">FGFR</text>
<text x="151.9" y="569.1" font-size="12.6">EPHA2</text>
<text x="46" y="626.7" font-size="12.6">ERK1/2</text>
<text x="254.5" y="515.8" font-size="12.6">FGF4</text>
<text x="328.4" y="516.6" font-size="12.6">EFNA</text>
<text x="353.2" y="568.8" font-size="12.6">EPHA2</text>
<text x="296.6" y="586" font-size="12.6">RSK</text>
<text x="253.7" y="626.6" font-size="12.6">ERK1/2</text>
<line x1="138.3" y1="566.2" x2="86" y2="612.7" stroke="#000" stroke-width="1.1"/>
<line x1="81" y1="608.3" x2="91" y2="617.2" stroke="#000" stroke-width="1.1"/>
<defs><radialGradient id="sh" cx="0.5" cy="0.5" r="0.5"><stop offset="0" stop-color="#808082" stop-opacity="1"/><stop offset="0.3" stop-color="#909092" stop-opacity="0.8"/><stop offset="1" stop-color="#bcbcbe" stop-opacity="0"/></radialGradient></defs>
<ellipse cx="99.1" cy="670.4" rx="41.7" ry="35.2" fill="#bcbdc1"/>
<ellipse cx="119.3" cy="670" rx="10" ry="10" fill="url(#sh)"/>
<ellipse cx="301" cy="670.3" rx="41.8" ry="35.1" fill="#bcbdc1"/>
<polyline points="61.2,674.46 62.12,674.89 63.03,675.36 63.95,675.85 64.86,676.34 65.78,676.83 66.69,677.3 67.61,677.73 68.52,678.12 69.44,678.44 70.35,678.7 71.27,678.88 72.18,678.98 73.09,679 74.01,678.93 74.92,678.78 75.84,678.55 76.76,678.25 77.67,677.88 78.59,677.47 79.5,677.01 80.42,676.53 81.33,676.03 82.25,675.54 83.16,675.07 84.08,674.62 84.99,674.22 85.91,673.87 86.82,673.59 87.74,673.38 88.65,673.25 89.56,673.2 90.48,673.24 91.4,673.36 92.31,673.56 93.22,673.84 94.14,674.18 95.06,674.58 95.97,675.02 96.89,675.5 97.8,675.99 98.72,676.48 99.63,676.97 100.55,677.42 101.46,677.84 102.38,678.21 103.29,678.52 104.21,678.76 105.12,678.92 106.03,678.99 106.95,678.99 107.87,678.89 108.78,678.72 109.7,678.47 110.61,678.15 111.53,677.77 112.44,677.34 113.36,676.88 114.27,676.39 115.19,675.9 116.1,675.41 117.02,674.94 117.93,674.5 118.84,674.11 119.76,673.78 120.68,673.52 121.59,673.33 122.51,673.23 123.42,673.2 124.34,673.26 125.25,673.41 126.17,673.63 127.08,673.93 128,674.29 128.91,674.7 129.82,675.15 130.74,675.63 131.66,676.13 132.57,676.62 133.49,677.1 134.4,677.55" fill="none" stroke="#000" stroke-width="1"/>
<polyline points="61.2,677.74 62.12,677.31 63.03,676.84 63.95,676.35 64.86,675.86 65.78,675.37 66.69,674.9 67.61,674.47 68.52,674.08 69.44,673.76 70.35,673.5 71.27,673.32 72.18,673.22 73.09,673.2 74.01,673.27 74.92,673.42 75.84,673.65 76.76,673.95 77.67,674.32 78.59,674.73 79.5,675.19 80.42,675.67 81.33,676.17 82.25,676.66 83.16,677.13 84.08,677.58 84.99,677.98 85.91,678.33 86.82,678.61 87.74,678.82 88.65,678.95 89.56,679 90.48,678.96 91.4,678.84 92.31,678.64 93.22,678.36 94.14,678.02 95.06,677.62 95.97,677.18 96.89,676.7 97.8,676.21 98.72,675.72 99.63,675.23 100.55,674.78 101.46,674.36 102.38,673.99 103.29,673.68 104.21,673.44 105.12,673.28 106.03,673.21 106.95,673.21 107.87,673.31 108.78,673.48 109.7,673.73 110.61,674.05 111.53,674.43 112.44,674.86 113.36,675.32 114.27,675.81 115.19,676.3 116.1,676.79 117.02,677.26 117.93,677.7 118.84,678.09 119.76,678.42 120.68,678.68 121.59,678.87 122.51,678.97 123.42,679 124.34,678.94 125.25,678.79 126.17,678.57 127.08,678.27 128,677.91 128.91,677.5 129.82,677.05 130.74,676.57 131.66,676.07 132.57,675.58 133.49,675.1 134.4,674.65" fill="none" stroke="#000" stroke-width="1"/>
<polyline points="262.9,674.16 263.82,674.6 264.73,675.06 265.65,675.55 266.57,676.05 267.49,676.54 268.4,677.01 269.32,677.44 270.24,677.82 271.16,678.15 272.07,678.4 272.99,678.58 273.91,678.68 274.83,678.69 275.75,678.62 276.66,678.47 277.58,678.23 278.5,677.93 279.41,677.56 280.33,677.14 281.25,676.69 282.17,676.2 283.08,675.7 284,675.21 284.92,674.73 285.84,674.29 286.75,673.89 287.67,673.54 288.59,673.27 289.51,673.06 290.43,672.94 291.34,672.9 292.26,672.95 293.18,673.08 294.09,673.28 295.01,673.57 295.93,673.92 296.85,674.32 297.76,674.77 298.68,675.25 299.6,675.74 300.52,676.24 301.44,676.72 302.35,677.18 303.27,677.59 304.19,677.95 305.11,678.25 306.02,678.48 306.94,678.63 307.86,678.7 308.77,678.68 309.69,678.57 310.61,678.39 311.53,678.13 312.44,677.8 313.36,677.41 314.28,676.97 315.2,676.5 316.12,676.01 317.03,675.52 317.95,675.03 318.87,674.56 319.79,674.13 320.7,673.75 321.62,673.43 322.54,673.18 323.45,673.01 324.37,672.91 325.29,672.91 326.21,672.99 327.12,673.15 328.04,673.38 328.96,673.69 329.88,674.06 330.8,674.49 331.71,674.95 332.63,675.43 333.55,675.93 334.47,676.42 335.38,676.9 336.3,677.34" fill="none" stroke="#000" stroke-width="1"/>
<polyline points="262.9,677.44 263.82,677 264.73,676.54 265.65,676.05 266.57,675.55 267.49,675.06 268.4,674.59 269.32,674.16 270.24,673.78 271.16,673.45 272.07,673.2 272.99,673.02 273.91,672.92 274.83,672.91 275.75,672.98 276.66,673.13 277.58,673.37 278.5,673.67 279.41,674.04 280.33,674.46 281.25,674.91 282.17,675.4 283.08,675.9 284,676.39 284.92,676.87 285.84,677.31 286.75,677.71 287.67,678.06 288.59,678.33 289.51,678.54 290.43,678.66 291.34,678.7 292.26,678.65 293.18,678.52 294.09,678.32 295.01,678.03 295.93,677.68 296.85,677.28 297.76,676.83 298.68,676.35 299.6,675.86 300.52,675.36 301.44,674.88 302.35,674.42 303.27,674.01 304.19,673.65 305.11,673.35 306.02,673.12 306.94,672.97 307.86,672.9 308.77,672.92 309.69,673.03 310.61,673.21 311.53,673.47 312.44,673.8 313.36,674.19 314.28,674.63 315.2,675.1 316.12,675.59 317.03,676.08 317.95,676.57 318.87,677.04 319.79,677.47 320.7,677.85 321.62,678.17 322.54,678.42 323.45,678.59 324.37,678.69 325.29,678.69 326.21,678.61 327.12,678.45 328.04,678.22 328.96,677.91 329.88,677.54 330.8,677.11 331.71,676.65 332.63,676.17 333.55,675.67 334.47,675.18 335.38,674.7 336.3,674.26" fill="none" stroke="#000" stroke-width="1"/>
<text x="73.6" y="660.4" font-size="12.6">OCT4</text>
<text x="284.4" y="664.2" font-size="12.6" fill="#fff">OCT4</text>
<polyline points="107.4,675.4 107.4,664.3 112,664.3" fill="none" stroke="#000" stroke-width="1"/>
<polygon points="111.6,660.4 119,664.3 111.6,668.2" fill="#000"/>
<line x1="122.1" y1="667" x2="141.5" y2="578" stroke="#000" stroke-width="1.2" stroke-dasharray="9 6" stroke-dashoffset="5"/>
<polygon points="143.5,569.6 145.9,581.3 141.4,577.8 136.4,579.3" fill="#000"/>
<line x1="270.5" y1="569.7" x2="270.5" y2="604" stroke="#000" stroke-width="1.1"/>
<polygon points="270.5,612.1 265.8,600.3 270.5,603.3 275.3,600.3" fill="#000"/>
<line x1="279.8" y1="613.3" x2="295.5" y2="596" stroke="#000" stroke-width="1.1"/>
<polygon points="299.6,591 296,602.8 293.9,597.3 288.2,596.3" fill="#000"/>
<line x1="313.7" y1="575.3" x2="333.1" y2="553.4" stroke="#000" stroke-width="1.1"/>
<line x1="327.3" y1="548.6" x2="338.9" y2="558.3" stroke="#000" stroke-width="1.1"/>
<line x1="268.9" y1="630.3" x2="284" y2="650.4" stroke="#000" stroke-width="1.1"/>
<line x1="278.6" y1="653.6" x2="289.5" y2="647" stroke="#000" stroke-width="1.1"/>
<text x="99.5" y="720.8" font-size="12.9" text-anchor="middle">ESC-specific</text>
<text x="100.2" y="735.7" font-size="12.9" text-anchor="middle">genes</text>
<text x="301.1" y="721" font-size="12.9" text-anchor="middle">Lineage-specific</text>
<text x="301" y="735.7" font-size="12.9" text-anchor="middle">genes</text>
</svg></body></html>
